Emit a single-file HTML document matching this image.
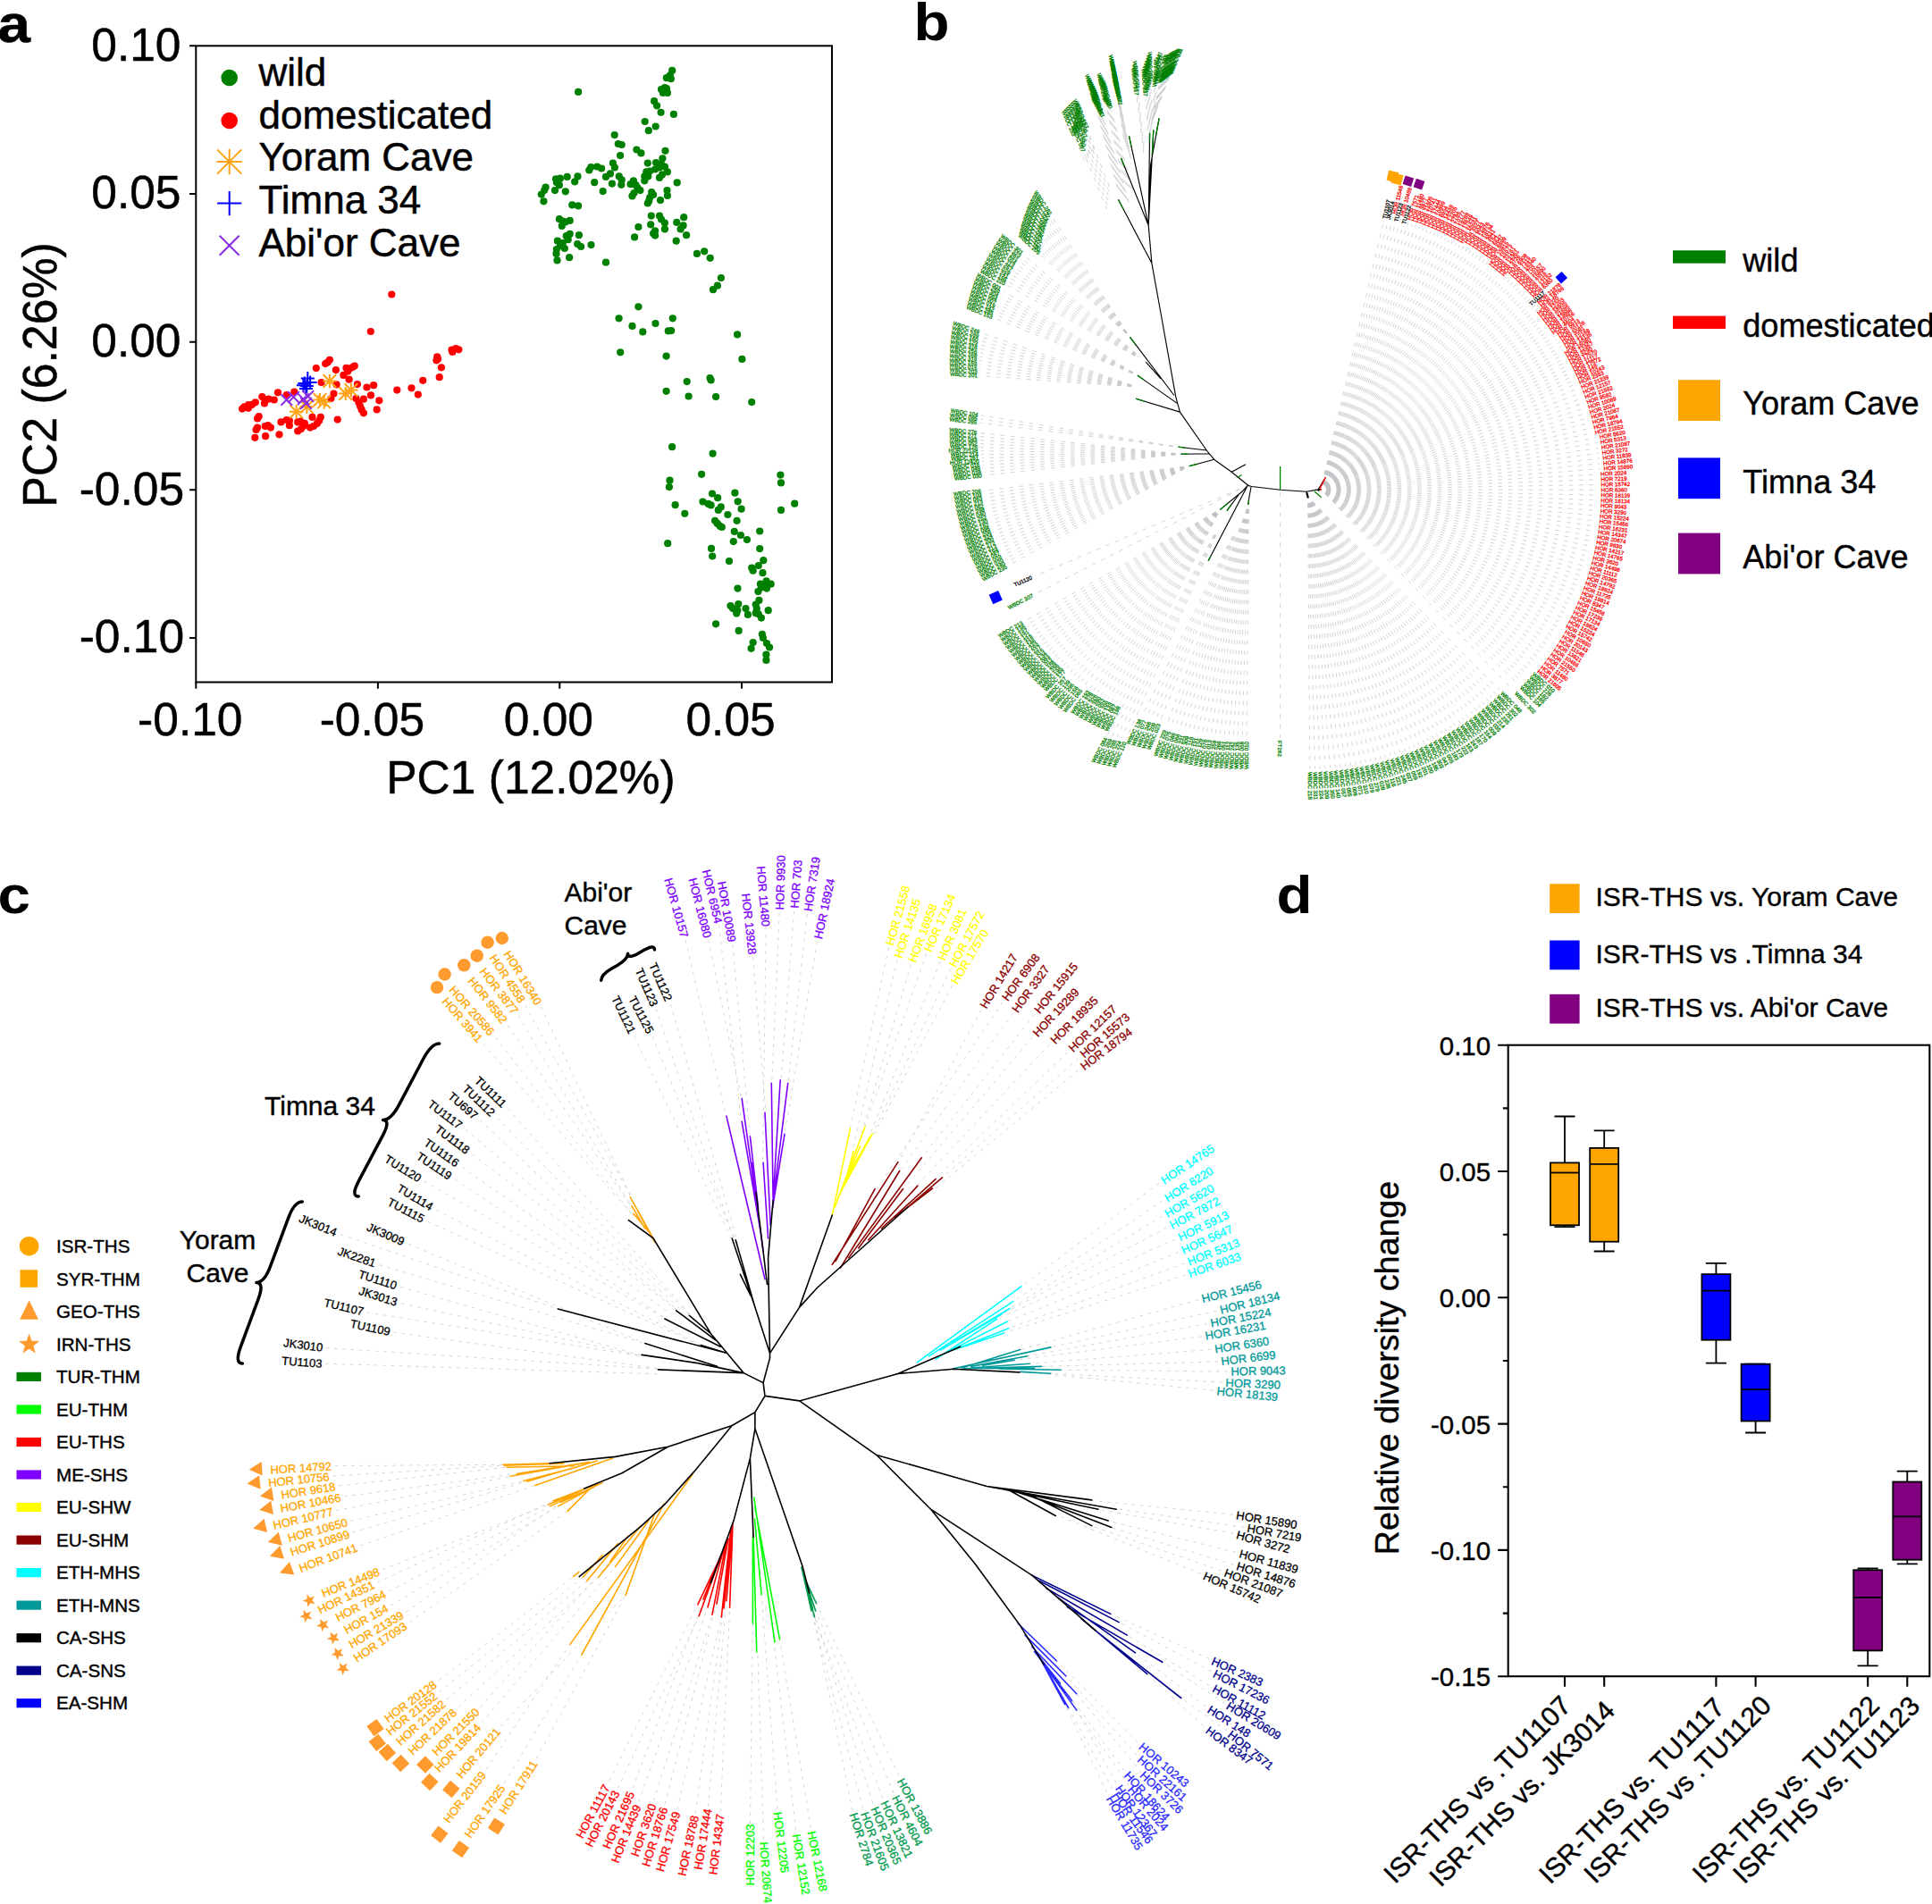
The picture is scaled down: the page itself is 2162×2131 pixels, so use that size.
<!DOCTYPE html>
<html lang="en"><head><meta charset="utf-8"><title>Figure</title>
<style>html,body{margin:0;padding:0;background:#fff}svg{display:block}text{font-family:"Liberation Sans",sans-serif}.b{font-weight:bold}.k{stroke:#000;stroke-width:.4px}</style></head>
<body>
<svg width="2162" height="2131" viewBox="0 0 2162 2131">
<rect width="2162" height="2131" fill="#fff"/>
<g id="pa" stroke="#000" stroke-width="0.5">
<text class="b" transform="translate(-2.5 46.5) scale(1.1 1)" font-size="59.5">a</text>
<rect x="219.3" y="51.3" width="711.7" height="712.2" fill="none" stroke="#000" stroke-width="2"/>
<text x="212.8" y="822.7" font-size="51.5" text-anchor="middle">-0.10</text>
<text x="416.4" y="822.7" font-size="51.5" text-anchor="middle">-0.05</text>
<text x="613.9" y="822.7" font-size="51.5" text-anchor="middle">0.00</text>
<text x="817.6" y="822.7" font-size="51.5" text-anchor="middle">0.05</text>
<text x="202.5" y="67.5" font-size="51.5" text-anchor="end">0.10</text>
<text x="202.5" y="233.2" font-size="51.5" text-anchor="end">0.05</text>
<text x="202.5" y="398.9" font-size="51.5" text-anchor="end">0.00</text>
<text x="206.1" y="564.5" font-size="51.5" text-anchor="end">-0.05</text>
<text x="206.1" y="730.2" font-size="51.5" text-anchor="end">-0.10</text>
<path d="M219.3 763.5v7.2M422.9 763.5v7.2M626.3 763.5v7.2M830 763.5v7.2M219.3 51.3h-7.2M219.3 217h-7.2M219.3 382.7h-7.2M219.3 548.3h-7.2M219.3 714h-7.2" stroke="#000" stroke-width="2" fill="none"/>
<text x="594" y="887.5" font-size="51.5" text-anchor="middle">PC1 (12.02%)</text>
<text transform="translate(63.2 419.5) rotate(-90) scale(1 1.045)" font-size="51.8" text-anchor="middle">PC2 (6.26%)</text>
<g fill="#008000" stroke="none"><circle cx="752.2" cy="78.9" r="4.1"/><circle cx="749.8" cy="84.3" r="4.1"/><circle cx="745.9" cy="87.2" r="4.1"/><circle cx="750.8" cy="88.2" r="4.1"/><circle cx="743.9" cy="98" r="4.1"/><circle cx="740" cy="100" r="4.1"/><circle cx="745.9" cy="99" r="4.1"/><circle cx="741.9" cy="103.9" r="4.1"/><circle cx="746.9" cy="103.9" r="4.1"/><circle cx="732.1" cy="113.2" r="4.1"/><circle cx="735.1" cy="118.3" r="4.1"/><circle cx="739.6" cy="125.8" r="4.1"/><circle cx="753.9" cy="127.9" r="4.1"/><circle cx="721.7" cy="136" r="4.1"/><circle cx="733.7" cy="141.5" r="4.1"/><circle cx="725.8" cy="146.2" r="4.1"/><circle cx="647.1" cy="102.9" r="4.1"/><circle cx="687.7" cy="151.1" r="4.1"/><circle cx="691.8" cy="161" r="4.1"/><circle cx="695.7" cy="162" r="4.1"/><circle cx="694.1" cy="174.1" r="4.1"/><circle cx="712.4" cy="167.5" r="4.1"/><circle cx="717.4" cy="171.4" r="4.1"/><circle cx="744.5" cy="168.8" r="4.1"/><circle cx="741.4" cy="177.3" r="4.1"/><circle cx="724.8" cy="182.6" r="4.1"/><circle cx="734.1" cy="182" r="4.1"/><circle cx="740" cy="183.6" r="4.1"/><circle cx="685.9" cy="182.6" r="4.1"/><circle cx="687.9" cy="187.5" r="4.1"/><circle cx="661.3" cy="187.1" r="4.1"/><circle cx="659.3" cy="190.5" r="4.1"/><circle cx="668.2" cy="186.5" r="4.1"/><circle cx="673.1" cy="188.5" r="4.1"/><circle cx="682.9" cy="194.4" r="4.1"/><circle cx="678" cy="197.9" r="4.1"/><circle cx="692.8" cy="197.4" r="4.1"/><circle cx="695.7" cy="201.3" r="4.1"/><circle cx="684.9" cy="205.6" r="4.1"/><circle cx="695.3" cy="206.8" r="4.1"/><circle cx="665.2" cy="204.2" r="4.1"/><circle cx="674.7" cy="214.1" r="4.1"/><circle cx="646.5" cy="197.4" r="4.1"/><circle cx="643.2" cy="203.3" r="4.1"/><circle cx="634.7" cy="197.9" r="4.1"/><circle cx="622" cy="200.3" r="4.1"/><circle cx="626.9" cy="199.7" r="4.1"/><circle cx="622.9" cy="204.2" r="4.1"/><circle cx="625.9" cy="207.2" r="4.1"/><circle cx="621" cy="213.1" r="4.1"/><circle cx="632.8" cy="214.3" r="4.1"/><circle cx="610.6" cy="209.6" r="4.1"/><circle cx="609.2" cy="213.1" r="4.1"/><circle cx="605.8" cy="217.6" r="4.1"/><circle cx="608.4" cy="225.3" r="4.1"/><circle cx="708.9" cy="202.3" r="4.1"/><circle cx="705.6" cy="206.2" r="4.1"/><circle cx="711.5" cy="207.2" r="4.1"/><circle cx="713.4" cy="210.1" r="4.1"/><circle cx="716.4" cy="213.1" r="4.1"/><circle cx="709.5" cy="216" r="4.1"/><circle cx="707.5" cy="219.4" r="4.1"/><circle cx="723.3" cy="192.4" r="4.1"/><circle cx="727.2" cy="191.5" r="4.1"/><circle cx="721.3" cy="197.4" r="4.1"/><circle cx="725.2" cy="197.4" r="4.1"/><circle cx="721.3" cy="202.3" r="4.1"/><circle cx="733.1" cy="189.5" r="4.1"/><circle cx="738" cy="187.5" r="4.1"/><circle cx="743.9" cy="186.5" r="4.1"/><circle cx="746.9" cy="192.4" r="4.1"/><circle cx="741" cy="195.4" r="4.1"/><circle cx="738" cy="198.9" r="4.1"/><circle cx="757.7" cy="204.4" r="4.1"/><circle cx="729.2" cy="215.1" r="4.1"/><circle cx="731.1" cy="218" r="4.1"/><circle cx="727.2" cy="221" r="4.1"/><circle cx="726.2" cy="224.9" r="4.1"/><circle cx="724.8" cy="227.5" r="4.1"/><circle cx="739" cy="224.1" r="4.1"/><circle cx="746.5" cy="213.1" r="4.1"/><circle cx="746.9" cy="219" r="4.1"/><circle cx="640.3" cy="229.4" r="4.1"/><circle cx="647.1" cy="230.4" r="4.1"/><circle cx="625.9" cy="245.2" r="4.1"/><circle cx="629.8" cy="247.5" r="4.1"/><circle cx="637.7" cy="246.9" r="4.1"/><circle cx="632.8" cy="248.5" r="4.1"/><circle cx="628.8" cy="252.8" r="4.1"/><circle cx="728.8" cy="241.6" r="4.1"/><circle cx="738" cy="241.6" r="4.1"/><circle cx="740" cy="245.5" r="4.1"/><circle cx="743.9" cy="249.5" r="4.1"/><circle cx="728.2" cy="251.4" r="4.1"/><circle cx="733.1" cy="258.3" r="4.1"/><circle cx="743.9" cy="256.4" r="4.1"/><circle cx="731.1" cy="261.3" r="4.1"/><circle cx="733.1" cy="263.6" r="4.1"/><circle cx="714.4" cy="254" r="4.1"/><circle cx="710.1" cy="265.4" r="4.1"/><circle cx="765.2" cy="243.2" r="4.1"/><circle cx="757.3" cy="248.9" r="4.1"/><circle cx="764.6" cy="252.4" r="4.1"/><circle cx="761.6" cy="256.4" r="4.1"/><circle cx="768.1" cy="263.2" r="4.1"/><circle cx="756.7" cy="269.7" r="4.1"/><circle cx="637.7" cy="261.9" r="4.1"/><circle cx="647.9" cy="263.2" r="4.1"/><circle cx="633.8" cy="264.2" r="4.1"/><circle cx="635.7" cy="268.2" r="4.1"/><circle cx="623.9" cy="269.7" r="4.1"/><circle cx="629.8" cy="272.1" r="4.1"/><circle cx="626.9" cy="275.1" r="4.1"/><circle cx="631.8" cy="278" r="4.1"/><circle cx="646.2" cy="273.1" r="4.1"/><circle cx="650.1" cy="276" r="4.1"/><circle cx="661.5" cy="274.1" r="4.1"/><circle cx="622.9" cy="279" r="4.1"/><circle cx="622.5" cy="283.9" r="4.1"/><circle cx="637.1" cy="288.2" r="4.1"/><circle cx="623.5" cy="291.4" r="4.1"/><circle cx="678" cy="293.7" r="4.1"/><circle cx="779.9" cy="283.9" r="4.1"/><circle cx="788.2" cy="281.3" r="4.1"/><circle cx="794.7" cy="288.8" r="4.1"/><circle cx="806.9" cy="311" r="4.1"/><circle cx="802.9" cy="319.7" r="4.1"/><circle cx="798" cy="324.2" r="4.1"/><circle cx="714.4" cy="343.3" r="4.1"/><circle cx="692.6" cy="356.3" r="4.1"/><circle cx="752.8" cy="356.3" r="4.1"/><circle cx="733.5" cy="362" r="4.1"/><circle cx="707.5" cy="364.9" r="4.1"/><circle cx="719.3" cy="371.4" r="4.1"/><circle cx="747.8" cy="370.4" r="4.1"/><circle cx="751.2" cy="370.1" r="4.1"/><circle cx="825.1" cy="374.4" r="4.1"/><circle cx="694.2" cy="394.3" r="4.1"/><circle cx="745.6" cy="398.6" r="4.1"/><circle cx="830.4" cy="401.9" r="4.1"/><circle cx="794.5" cy="423" r="4.1"/><circle cx="795.6" cy="425.5" r="4.1"/><circle cx="768.7" cy="427.1" r="4.1"/><circle cx="745.6" cy="437.8" r="4.1"/><circle cx="770.6" cy="443.5" r="4.1"/><circle cx="801.1" cy="444.1" r="4.1"/><circle cx="841.2" cy="450.1" r="4.1"/><circle cx="752.1" cy="500.2" r="4.1"/><circle cx="797.6" cy="507.6" r="4.1"/><circle cx="785.1" cy="530.8" r="4.1"/><circle cx="749.5" cy="537.7" r="4.1"/><circle cx="748.9" cy="545.1" r="4.1"/><circle cx="873.4" cy="531.6" r="4.1"/><circle cx="874" cy="540.4" r="4.1"/><circle cx="797" cy="552.5" r="4.1"/><circle cx="803.1" cy="557.2" r="4.1"/><circle cx="822.4" cy="551.7" r="4.1"/><circle cx="786.5" cy="561.5" r="4.1"/><circle cx="792.5" cy="563.9" r="4.1"/><circle cx="795.6" cy="565.4" r="4.1"/><circle cx="825.7" cy="561.3" r="4.1"/><circle cx="806.8" cy="567.4" r="4.1"/><circle cx="803.8" cy="570.9" r="4.1"/><circle cx="829.6" cy="569.7" r="4.1"/><circle cx="755.6" cy="565.2" r="4.1"/><circle cx="766.3" cy="574.8" r="4.1"/><circle cx="814.4" cy="576" r="4.1"/><circle cx="889.2" cy="563.7" r="4.1"/><circle cx="874" cy="570.9" r="4.1"/><circle cx="800.1" cy="582.8" r="4.1"/><circle cx="802.7" cy="585.9" r="4.1"/><circle cx="805.8" cy="588.9" r="4.1"/><circle cx="807.8" cy="590" r="4.1"/><circle cx="824.6" cy="582.8" r="4.1"/><circle cx="821.8" cy="594.9" r="4.1"/><circle cx="828.9" cy="599" r="4.1"/><circle cx="835.9" cy="604.1" r="4.1"/><circle cx="850.2" cy="594.5" r="4.1"/><circle cx="820.8" cy="606.1" r="4.1"/><circle cx="747.2" cy="608.2" r="4.1"/><circle cx="796" cy="613.9" r="4.1"/><circle cx="797.2" cy="622.5" r="4.1"/><circle cx="850.2" cy="614.1" r="4.1"/><circle cx="816" cy="628.1" r="4.1"/><circle cx="854.3" cy="627.2" r="4.1"/><circle cx="848.8" cy="633" r="4.1"/><circle cx="841.2" cy="635.6" r="4.1"/><circle cx="842.7" cy="638.7" r="4.1"/><circle cx="853.5" cy="641.2" r="4.1"/><circle cx="857.6" cy="650.4" r="4.1"/><circle cx="850.9" cy="653.5" r="4.1"/><circle cx="856" cy="654.5" r="4.1"/><circle cx="862.7" cy="653.7" r="4.1"/><circle cx="851.9" cy="657.6" r="4.1"/><circle cx="858" cy="658.6" r="4.1"/><circle cx="848.4" cy="662.1" r="4.1"/><circle cx="825.5" cy="658.6" r="4.1"/><circle cx="849.4" cy="671.9" r="4.1"/><circle cx="845.7" cy="676.6" r="4.1"/><circle cx="846.8" cy="681.1" r="4.1"/><circle cx="845.7" cy="686.2" r="4.1"/><circle cx="848.8" cy="687.3" r="4.1"/><circle cx="851.9" cy="691.6" r="4.1"/><circle cx="859.7" cy="683.2" r="4.1"/><circle cx="817.5" cy="678" r="4.1"/><circle cx="820.1" cy="681.1" r="4.1"/><circle cx="826.3" cy="676" r="4.1"/><circle cx="825.3" cy="683.2" r="4.1"/><circle cx="824.2" cy="686.6" r="4.1"/><circle cx="834.5" cy="681.1" r="4.1"/><circle cx="836.9" cy="687.9" r="4.1"/><circle cx="801.1" cy="698.3" r="4.1"/><circle cx="826.7" cy="705.9" r="4.1"/><circle cx="852.9" cy="709.8" r="4.1"/><circle cx="853.9" cy="713.9" r="4.1"/><circle cx="858" cy="720" r="4.1"/><circle cx="861.1" cy="724.5" r="4.1"/><circle cx="842.7" cy="719" r="4.1"/><circle cx="840.6" cy="725.8" r="4.1"/><circle cx="857.4" cy="732.7" r="4.1"/><circle cx="857.4" cy="738.9" r="4.1"/></g>
<g fill="#ff0000" stroke="none"><circle cx="438.3" cy="329.5" r="4.1"/><circle cx="414.8" cy="371" r="4.1"/><circle cx="510.2" cy="390.1" r="4.1"/><circle cx="513.3" cy="391.3" r="4.1"/><circle cx="505.5" cy="391.6" r="4.1"/><circle cx="506.3" cy="393.9" r="4.1"/><circle cx="489.2" cy="399.4" r="4.1"/><circle cx="490" cy="401.7" r="4.1"/><circle cx="488.4" cy="403.3" r="4.1"/><circle cx="493.9" cy="411.3" r="4.1"/><circle cx="491.7" cy="422.2" r="4.1"/><circle cx="473.2" cy="425.8" r="4.1"/><circle cx="460.5" cy="434.3" r="4.1"/><circle cx="467.8" cy="441.6" r="4.1"/><circle cx="444.3" cy="436.6" r="4.1"/><circle cx="368.9" cy="402.8" r="4.1"/><circle cx="366.6" cy="405.6" r="4.1"/><circle cx="364.2" cy="407.1" r="4.1"/><circle cx="353.8" cy="412.1" r="4.1"/><circle cx="375.9" cy="414.1" r="4.1"/><circle cx="396.8" cy="409.5" r="4.1"/><circle cx="394.5" cy="411" r="4.1"/><circle cx="391.4" cy="412.6" r="4.1"/><circle cx="387.5" cy="411.8" r="4.1"/><circle cx="389.1" cy="415.7" r="4.1"/><circle cx="384.4" cy="419.9" r="4.1"/><circle cx="390.6" cy="424.7" r="4.1"/><circle cx="359.6" cy="428.1" r="4.1"/><circle cx="376.6" cy="430.4" r="4.1"/><circle cx="399.9" cy="430.1" r="4.1"/><circle cx="410.5" cy="433.5" r="4.1"/><circle cx="418.1" cy="431.2" r="4.1"/><circle cx="415" cy="442.4" r="4.1"/><circle cx="406.9" cy="446.7" r="4.1"/><circle cx="424.3" cy="448.3" r="4.1"/><circle cx="421.7" cy="458.4" r="4.1"/><circle cx="373.5" cy="440.5" r="4.1"/><circle cx="370.4" cy="446" r="4.1"/><circle cx="398.4" cy="446" r="4.1"/><circle cx="401.5" cy="450.6" r="4.1"/><circle cx="403" cy="454.5" r="4.1"/><circle cx="404.6" cy="458.4" r="4.1"/><circle cx="406.9" cy="462.3" r="4.1"/><circle cx="377.7" cy="469.6" r="4.1"/><circle cx="311" cy="439.3" r="4.1"/><circle cx="329.3" cy="438.7" r="4.1"/><circle cx="320.7" cy="442.1" r="4.1"/><circle cx="293.3" cy="444.1" r="4.1"/><circle cx="296.7" cy="447.5" r="4.1"/><circle cx="300.6" cy="446.7" r="4.1"/><circle cx="306.8" cy="447.5" r="4.1"/><circle cx="295.9" cy="451.4" r="4.1"/><circle cx="285.8" cy="450.3" r="4.1"/><circle cx="281.9" cy="453" r="4.1"/><circle cx="278" cy="453" r="4.1"/><circle cx="273.4" cy="455.3" r="4.1"/><circle cx="271.1" cy="457.6" r="4.1"/><circle cx="278" cy="456.8" r="4.1"/><circle cx="289.7" cy="466.1" r="4.1"/><circle cx="288.1" cy="468.5" r="4.1"/><circle cx="349.5" cy="466.9" r="4.1"/><circle cx="358.8" cy="466.9" r="4.1"/><circle cx="357.2" cy="470.8" r="4.1"/><circle cx="354.9" cy="473.9" r="4.1"/><circle cx="351" cy="477" r="4.1"/><circle cx="347.1" cy="478.6" r="4.1"/><circle cx="340.9" cy="473.9" r="4.1"/><circle cx="336.3" cy="471.6" r="4.1"/><circle cx="333.2" cy="472.4" r="4.1"/><circle cx="339.4" cy="477" r="4.1"/><circle cx="337" cy="480.1" r="4.1"/><circle cx="333.2" cy="482.5" r="4.1"/><circle cx="323.9" cy="470.8" r="4.1"/><circle cx="320.7" cy="470" r="4.1"/><circle cx="314.5" cy="472.4" r="4.1"/><circle cx="323.9" cy="476.2" r="4.1"/><circle cx="299.8" cy="476.2" r="4.1"/><circle cx="296.7" cy="477" r="4.1"/><circle cx="302.9" cy="478.6" r="4.1"/><circle cx="288.1" cy="478.6" r="4.1"/><circle cx="286.6" cy="480.9" r="4.1"/><circle cx="312.5" cy="486.3" r="4.1"/><circle cx="297.1" cy="488.2" r="4.1"/><circle cx="285.3" cy="489.8" r="4.1"/></g>
<path d="M361.3 426.6H376.5M368.9 419V434.2M361.6 419.3L376.2 433.8M361.6 433.8L376.2 419.3" stroke="#ffa216" stroke-width="2.0" fill="none"/><path d="M385.4 436.6H400.6M393 429V444.2M385.7 429.3L400.2 443.9M385.7 443.9L400.2 429.3" stroke="#ffa216" stroke-width="2.0" fill="none"/><path d="M379.1 440.5H394.3M386.7 432.9V448.1M379.4 433.2L394 447.8M379.4 447.8L394 433.2" stroke="#ffa216" stroke-width="2.0" fill="none"/><path d="M350.4 447.5H365.6M358 439.9V455.1M350.7 440.2L365.3 454.8M350.7 454.8L365.3 440.2" stroke="#ffa216" stroke-width="2.0" fill="none"/><path d="M355.1 449.8H370.3M362.7 442.2V457.4M355.4 442.5L370 457.1M355.4 457.1L370 442.5" stroke="#ffa216" stroke-width="2.0" fill="none"/><path d="M324 460.7H339.2M331.6 453.1V468.3M324.3 453.4L338.9 468M324.3 468L338.9 453.4" stroke="#ffa216" stroke-width="2.0" fill="none"/><path d="M335.7 455.3H350.9M343.3 447.7V462.9M336 448L350.6 462.6M336 462.6L350.6 448" stroke="#ffa216" stroke-width="2.0" fill="none"/><path d="M336.8 423.4H351.8M344.3 415.9V430.9" stroke="#0000ff" stroke-width="2.0" fill="none"/><path d="M339.6 428.1H354.6M347.1 420.6V435.6" stroke="#0000ff" stroke-width="2.0" fill="none"/><path d="M333.4 428.9H348.4M340.9 421.4V436.4" stroke="#0000ff" stroke-width="2.0" fill="none"/><path d="M335.8 432H350.8M343.3 424.5V439.5" stroke="#0000ff" stroke-width="2.0" fill="none"/><path d="M331.9 431.2H346.9M339.4 423.7V438.7" stroke="#0000ff" stroke-width="2.0" fill="none"/><path d="M335 435.1H350M342.5 427.6V442.6" stroke="#0000ff" stroke-width="2.0" fill="none"/><path d="M314.4 441.2L327 453.8M314.4 453.8L327 441.2" stroke="#8a2be2" stroke-width="2.0" fill="none"/><path d="M322.2 438.1L334.8 450.7M322.2 450.7L334.8 438.1" stroke="#8a2be2" stroke-width="2.0" fill="none"/><path d="M333.1 440.4L345.7 453M333.1 453L345.7 440.4" stroke="#8a2be2" stroke-width="2.0" fill="none"/><path d="M338.5 437.3L351.1 449.9M338.5 449.9L351.1 437.3" stroke="#8a2be2" stroke-width="2.0" fill="none"/><path d="M336.2 445.1L348.8 457.7M336.2 457.7L348.8 445.1" stroke="#8a2be2" stroke-width="2.0" fill="none"/>
<circle cx="256.7" cy="87.0" r="9.3" fill="#008000" stroke="none"/><circle cx="256.7" cy="135.0" r="9.3" fill="#ff0000" stroke="none"/><path d="M242.5 181H270.9M256.7 166.8V195.2M243.1 167.4L270.3 194.6M243.1 194.6L270.3 167.4" stroke="#ffa216" stroke-width="2.0" fill="none"/><path d="M243.1 227.6H270.3M256.7 214V241.2" stroke="#0000ff" stroke-width="2.0" fill="none"/><path d="M245.7 263.8L267.7 285.8M245.7 285.8L267.7 263.8" stroke="#8a2be2" stroke-width="2.0" fill="none"/><text x="289.5" y="95.5" font-size="44">wild</text><text x="289.5" y="143.5" font-size="44">domesticated</text><text x="289.5" y="191.2" font-size="44">Yoram Cave</text><text x="289.5" y="239.2" font-size="44">Timna 34</text><text x="289.5" y="286.8" font-size="44">Abi'or Cave</text>
</g>
<g id="pb">
<text class="b" transform="translate(1022.5 45) scale(1.1 1)" font-size="59.5">b</text>
<path d="M1479.5 541.7L1548.3 248.1M1479.6 541.7L1552.6 249.2M1479.7 541.7L1559 242.5M1479.8 541.7L1561.2 251.4M1479.8 541.8L1567.7 244.9M1479.9 541.8L1569.7 253.8M1480 541.8L1575.7 249.4M1480.1 541.9L1580 250.9M1480.2 541.9L1584.3 252.3M1480.3 541.9L1588.5 253.9M1480.4 541.9L1592.7 255.5M1480.5 542L1596.9 257.1M1480.5 542L1601.1 258.8M1480.6 542.1L1605.2 260.6M1480.7 542.1L1609.4 262.4M1480.8 542.1L1613.5 264.3M1480.9 542.2L1617.5 266.3M1481 542.2L1621.6 268.3M1481.1 542.3L1625.6 270.3M1481.1 542.3L1629.5 272.5M1481.2 542.4L1633.5 274.6M1481.3 542.4L1638.4 275.2M1481.4 542.4L1642.3 277.5M1481.5 542.5L1646.2 279.8M1481.5 542.5L1650 282.2M1481.6 542.6L1653.8 284.7M1481.7 542.6L1657.6 287.2M1481.8 542.7L1661.3 289.8M1481.8 542.8L1665 292.5M1481.9 542.8L1665.1 299.9M1482 542.9L1668.6 302.6M1482.1 542.9L1672.2 305.4M1482.1 543L1675.6 308.2M1482.2 543L1679.1 311M1482.3 543.1L1686.4 309.4M1482.3 543.2L1689.8 312.4M1482.4 543.2L1693.2 315.4M1482.5 543.3L1696.5 318.5M1482.5 543.4L1699.8 321.6M1482.6 543.4L1703 324.8M1482.7 543.5L1706.2 328.1M1482.7 543.6L1709.4 331.3M1482.8 543.6L1712.5 334.7M1482.9 543.7L1709.6 343.3M1482.9 543.8L1718.5 341.4M1483 543.8L1721.5 344.9M1483.1 543.9L1718.2 353.4M1483.1 544L1721 356.9M1483.2 544.1L1723.7 360.4M1483.2 544.1L1726.4 363.9M1483.3 544.2L1729 367.5M1483.3 544.3L1731.6 371.1M1483.4 544.4L1734.1 374.7M1483.4 544.4L1740 376.2M1483.5 544.5L1742.4 380M1483.5 544.6L1744.8 383.7M1483.6 544.7L1747.2 387.6M1483.6 544.8L1749.5 391.4M1483.7 544.8L1748.2 397.3M1483.7 544.9L1750.4 401.2M1483.8 545L1752.5 405.1M1483.8 545.1L1754.5 409M1483.8 545.2L1756.5 413M1483.9 545.2L1758.4 417M1483.9 545.3L1760.3 421M1484 545.4L1762.1 425.1M1484 545.5L1764 429.5M1484.1 545.6L1766.2 434.9M1484.1 545.7L1768.3 440.3M1484.1 545.9L1770.3 445.8M1484.2 546L1772.2 451.3M1484.2 546.1L1774 456.8M1484.2 546.2L1775.7 462.3M1484.3 546.3L1777.2 467.9M1484.3 546.4L1778.7 473.5M1484.3 546.6L1780.1 479.2M1484.4 546.7L1781.3 484.9M1484.4 546.8L1786.4 489.8M1484.4 546.9L1787.5 495.6M1484.4 547L1788.4 501.4M1484.4 547.2L1789.3 507.2M1484.5 547.3L1790 513.1M1484.5 547.4L1790.6 518.9M1484.5 547.5L1791.1 524.8M1484.5 547.6L1787.6 530.9M1484.5 547.8L1787.8 536.7M1484.5 547.9L1788 542.5M1484.5 548L1788.1 548.3M1484.5 548.1L1788.1 554.1M1484.5 548.3L1787.9 559.9M1484.5 548.4L1787.7 565.7M1484.5 548.5L1787.3 571.5M1484.5 548.6L1786.8 577.3M1484.5 548.7L1786.3 583.1M1484.4 548.9L1785.6 588.9M1484.4 549L1784.8 594.7M1484.4 549.1L1783.9 600.4M1484.4 549.2L1782.9 606.1M1484.4 549.3L1781.7 611.9M1484.3 549.5L1780.5 617.5M1484.3 549.6L1779.2 623.2M1484.3 549.7L1777.7 628.8M1484.2 549.8L1776.2 634.5M1484.2 549.9L1774.5 640M1484.2 550L1772.8 645.6M1484.1 550.2L1770.9 651.1M1484.1 550.3L1769 656.6M1484 550.4L1766.9 662M1484 550.5L1764.7 667.4M1484 550.6L1762.5 672.8M1483.9 550.7L1760.1 678.1M1483.9 550.8L1757.6 683.4M1483.8 550.9L1755.1 688.6M1483.7 551.1L1752.4 693.8M1483.7 551.2L1749.6 698.9M1483.6 551.3L1748.5 705M1483.6 551.4L1745.5 710.1M1483.5 551.5L1742.5 715.1M1483.4 551.6L1739.3 720M1483.4 551.7L1736.1 724.9M1483.3 551.8L1732.7 729.7M1483.2 551.9L1729.3 734.5M1483.1 552L1725.8 739.2M1483.1 552.1L1722.2 743.8M1483 552.2L1718.5 748.4M1482.9 552.3L1713.1 751.6M1482.8 552.3L1709.8 755.4M1482.8 552.4L1706.4 759.1M1482.7 552.5L1702.9 762.8M1482.6 552.6L1699.4 766.4M1497.4 568.2L1693.6 772.8M1468.9 561.3L1677.8 772.4M1468.8 561.4L1673.7 776.4M1468.7 561.5L1669.5 780.4M1468.6 561.6L1665.2 784.2M1468.5 561.7L1660.9 788M1468.4 561.8L1656.5 791.6M1468.2 561.9L1652 795.2M1468.1 562L1647.4 798.7M1468 562.1L1642.8 802.2M1467.9 562.1L1638.1 805.5M1467.8 562.2L1633.4 808.8M1467.7 562.3L1628.6 811.9M1467.5 562.4L1623.8 815M1467.4 562.5L1618.8 818M1467.3 562.5L1613.9 820.8M1467.2 562.6L1608.9 823.6M1467.1 562.7L1603.8 826.3M1466.9 562.7L1598.7 828.9M1466.8 562.8L1593.5 831.4M1466.7 562.8L1588.3 833.8M1466.5 562.9L1583 836.1M1466.4 563L1577.7 838.3M1466.3 563L1572.4 840.4M1466.1 563.1L1567 842.4M1466 563.1L1561.6 844.3M1465.9 563.1L1556.1 846.1M1465.7 563.2L1550.6 847.8M1465.6 563.2L1545.1 849.4M1465.5 563.3L1539.6 850.9M1465.3 563.3L1534 852.3M1465.2 563.3L1528.4 853.5M1465.1 563.4L1522.8 854.7M1464.9 563.4L1517.1 855.8M1464.8 563.4L1511.5 856.7M1464.6 563.4L1505.8 857.6M1464.5 563.4L1500.1 858.3M1464.4 563.5L1494.4 858.9M1464.2 563.5L1488.7 859.5M1464.1 563.5L1482.9 859.9M1463.9 563.5L1477.2 860.2M1463.8 563.5L1471.5 860.4M1463.7 563.5L1465.7 860.5M1397.3 570L1395.1 826.5M1397.2 570L1390.1 826.6M1397.1 570L1385 826.7M1397 570L1380 826.6M1396.9 570L1374.9 826.4M1396.8 570L1369.8 826.2M1396.7 570L1364.8 825.8M1396.5 569.9L1359.7 825.4M1396.4 569.9L1354.7 824.8M1396.3 569.9L1349.7 824.2M1396.2 569.9L1344.6 823.4M1396.1 569.9L1339.6 822.6M1396 569.8L1334.6 821.6M1395.9 569.8L1329.6 820.6M1395.8 569.8L1324.6 819.4M1395.6 569.7L1319.7 818.2M1395.5 569.7L1314.7 816.9M1395.4 569.7L1309.8 815.5M1395.3 569.6L1304.9 813.9M1382.3 601L1298.2 807M1381.6 600.7L1293.1 806M1380.8 600.4L1287.9 804.8M1380.1 600.1L1282.8 803.5M1379.4 599.7L1277.7 802.1M1360.8 599.1L1260.1 827.4M1360.3 598.9L1254.9 826.5M1359.8 598.7L1249.7 825.4M1359.3 598.4L1244.5 824.2M1358.8 598.2L1239.3 822.9M1362.8 575.3L1253.7 787.5M1362.7 575.3L1249.4 785.6M1362.6 575.2L1245.1 783.7M1362.5 575.2L1240.8 781.6M1362.4 575.1L1236.6 779.5M1362.3 575L1232.4 777.3M1362.2 575L1228.2 775M1362.1 574.9L1224.1 772.7M1362 574.9L1220 770.2M1361.8 574.8L1212 769.3M1361.7 574.7L1207.6 766.1M1361.6 574.6L1203.2 762.8M1361.5 574.5L1198.8 759.4M1361.4 574.4L1194.6 755.9M1361.3 574.3L1193.6 748M1361.3 574.2L1190.1 745M1361.2 574.2L1186.6 741.8M1361.1 574.1L1183.2 738.6M1361 574L1179.9 735.3M1360.9 573.9L1176.6 731.9M1360.9 573.8L1173.3 728.5M1360.8 573.7L1170.2 725M1360.7 573.6L1167.1 721.5M1360.7 573.6L1164 717.9M1360.6 573.5L1161.1 714.2M1360.5 573.4L1158.2 710.5M1360.5 573.3L1155.3 706.7M1360.4 573.2L1152.6 702.8M1360.4 573.1L1149.9 698.9M1360.3 573L1147.3 695M1387.3 547.9L1159 664.7M1387 547.2L1158 644.9M1325.4 524.6L1129.6 632.3M1325.4 524.5L1127.5 628.6M1325.3 524.4L1125.6 624.9M1325.3 524.3L1123.6 621.2M1325.2 524.2L1121.8 617.4M1325.2 524.1L1120 613.6M1325.2 524L1118.3 609.7M1325.1 523.9L1116.7 605.9M1325.1 523.8L1115.1 602M1325 523.7L1113.6 598M1325 523.6L1112.2 594.1M1325 523.5L1110.8 590.1M1324.9 523.4L1109.5 586.1M1324.9 523.3L1108.3 582M1324.9 523.2L1107.2 578M1324.9 523.1L1106.1 573.9M1324.8 523L1105.1 569.8M1324.8 522.8L1104.2 565.7M1324.8 522.7L1103.4 561.5M1324.8 522.6L1102.6 557.4M1324.8 522.5L1101.9 553.2M1324.7 522.4L1101.3 549.1M1315.4 508.8L1102.2 532M1315.4 508.7L1101.3 528.2M1315.4 508.6L1100.6 524.3M1315.4 508.5L1099.9 520.4M1315.4 508.4L1099.2 516.5M1315.4 508.3L1098.7 512.5M1315.4 508.2L1098.2 508.6M1315.4 508.1L1097.7 504.6M1315.4 508L1097.4 500.6M1315.4 507.9L1097.1 496.6M1315.4 507.8L1096.9 492.6M1315.4 507.7L1096.7 488.6M1315.4 507.6L1096.6 484.6M1312.6 499.5L1096.7 473.3M1312.7 499.4L1097.3 469.1M1312.7 499.3L1097.9 464.9M1266 432.6L1097.4 420.8M1266 432.4L1097 416.5M1266 432.3L1096.8 412.2M1266.1 432.1L1096.6 407.9M1266.1 432L1096.5 403.6M1266.1 431.9L1096.6 399.2M1266.1 431.7L1096.7 394.8M1266.2 431.6L1097 390.4M1266.2 431.4L1097.4 386M1266.2 431.3L1097.9 381.6M1266.3 431.2L1098.5 377.2M1266.3 431L1099.2 372.8M1267.3 417.9L1113.7 356.4M1267.4 417.7L1114.5 352.5M1267.4 417.6L1115.4 348.6M1267.5 417.5L1116.3 344.8M1267.6 417.4L1117.4 340.9M1267.6 417.3L1118.6 337M1267.7 417.1L1119.9 333.2M1267.8 417L1121.2 329.3M1267.8 416.9L1122.7 325.5M1270 398.4L1127.6 319.5M1270.1 398.1L1129.3 315.6M1270.3 397.8L1131.1 311.8M1270.5 397.6L1133.1 308M1270.7 397.3L1135.1 304.2M1270.8 397L1137.2 300.5M1271 396.7L1139.4 296.8M1271.3 396.5L1141.7 293.2M1271.5 396.2L1144.1 289.6M1271.7 396L1146.6 286.1M1260.1 373.2L1165.7 286.1M1260.2 373.1L1166 282.6M1260.3 373.1L1166.5 279M1260.4 373L1167.1 275.5M1260.4 372.9L1167.8 271.9M1260.5 372.8L1168.6 268.3M1260.6 372.7L1169.5 264.7M1260.7 372.6L1170.5 261.1M1260.8 372.6L1171.7 257.5M1260.9 372.5L1172.9 253.9M1261 372.4L1174.3 250.2M1261.1 372.3L1175.7 246.6M1261.2 372.3L1177.3 243M1238.7 234.6L1213.6 172.5M1239.3 229.4L1214.4 167.2M1239.8 224.3L1215.1 162M1240.3 219.1L1215.8 156.7M1240.8 214L1216.5 151.5M1241.3 208.8L1217.3 146.2M1213.7 179.8L1203.2 154.9M1215.9 177.3L1205.5 152.4M1218 174.9L1207.8 149.9M1220.1 172.5L1210.1 147.4M1222.2 170L1212.4 144.9M1224.3 167.6L1214.6 142.4M1263.3 226.5L1234.9 133.7M1261.7 224.4L1233.7 131.5M1260 222.3L1232.5 129.3M1258.4 220.2L1231.2 127.1M1256.7 218.1L1230 124.8M1255.1 216L1228.8 122.6M1253.5 213.9L1227.5 120.4M1251.8 211.8L1226.3 118.2M1250.2 209.7L1225.1 116M1267.6 213.1L1243.8 124.3M1265.6 211.5L1242.4 122.5M1263.6 209.8L1241.1 120.6M1261.7 208.2L1239.7 118.8M1259.7 206.5L1238.4 117M1257.7 204.8L1237 115.2M1265.8 178L1254.6 120.1M1264.9 175.3L1253.9 117.3M1264 172.5L1253.2 114.5M1263 169.8L1252.4 111.7M1262.1 167L1251.7 108.9M1261.2 164.3L1251 106.1M1260.2 161.5L1250.3 103.3M1259.3 158.7L1249.6 100.5M1258.3 156L1248.9 97.7M1257.4 153.2L1248.2 94.9M1279.8 171.2L1272.2 109.7M1279.9 167.3L1272.9 105.7M1280 163.4L1273.5 101.8M1285.3 157.6L1282.1 110.7M1286 154.5L1283 107.6M1286.7 151.3L1283.9 104.4M1287.4 148.2L1284.9 101.3M1288 145.1L1285.8 98.1M1288.7 141.9L1286.8 95M1289.4 138.8L1287.7 91.8M1289 137.1L1291.6 100.2M1289.8 134.3L1292.8 97.4M1290.6 131.5L1294 94.6M1291.3 128.6L1295.2 91.8M1289.6 134.3L1297 96M1290 133.2L1298 95.1M1290.4 132.2L1299 94.2M1290.8 131.2L1300 93.3M1291.2 130.2L1301 92.4M1291.6 129.1L1302.1 91.5M1292 128L1303.1 90.6M1292.4 127L1304.1 89.8M1292.8 125.9L1305.1 88.9M1293.2 124.8L1306.1 88M1293.6 123.7L1307.1 87.1M1294.1 122.6L1308.1 86.2M1294.5 121.5L1309.1 85.3M1432.6 551L1432.6 826" stroke="#c0c3c6" stroke-width="0.72" stroke-dasharray="4.7 6.6" fill="none"/>
<path d="M1397.7 544L1378.2 528.2L1358.6 514.2L1350.2 504L1320.4 461.1L1315.8 444.3L1297.1 340L1288.9 294.6L1285.2 252.3M1285.2 252.3L1287.6 184.6L1297.1 132.4M1285.2 252.3L1290.8 145.5M1285.2 252.3L1286.6 148.7M1285.2 252.3L1263.5 152.4M1285.2 252.3L1254.5 177M1288.9 294.6L1251.4 223.3M1320.4 461.1L1271 446.2M1317.6 451.6L1272.9 420.1M1313.9 442.5L1264.5 377.3M1299 423.8L1282.2 405.2M1350.2 504L1318.6 500.2M1353 507.7L1321.4 508.2M1358.6 514.2L1330.7 521.7M1378.2 528.2L1394 519.8M1396.2 543.3L1390.6 549.7L1365.3 570.4M1386 554L1372.9 571.7M1396.2 543.3L1352.1 627.8M1400 545L1398 556L1396.7 565M1396.2 543.3L1400.8 544.5L1432.6 548.3L1462 550.3L1475.2 547.9L1480.5 539M1462 550.3L1463.6 556" stroke="#000" stroke-width="1.15" fill="none" stroke-linejoin="round"/>
<path d="M1293.8 150.7L1297.1 132.4M1289.4 172.2L1290.8 145.5M1286.5 159.1L1286.6 148.7M1266.1 164.4L1263.5 152.4M1258.2 186L1254.5 177M1257 234L1251.4 223.3M1280.9 449.2L1271 446.2M1279.6 424.8L1272.9 420.1M1270.4 385.1L1264.5 377.3M1326.5 501.1L1318.6 500.2M1329.3 508.1L1321.4 508.2M1339.1 519.5L1330.7 521.7M1374.2 563.2L1365.3 570.4M1377.5 565.5L1372.9 571.7M1354.7 622.7L1352.1 627.8M1397.5 559.6L1396.7 565M1432.6 522L1432.6 548.2M1471 550L1478.6 556.8M1384.5 534.5L1389.5 531.5" stroke="#008000" stroke-width="1.3" fill="none"/>
<path d="M1477 546.5L1483.4 534.2M1476 548.5l3 -1" stroke="#e00000" stroke-width="1.6" fill="none"/>
<path d="M1462.3 551.5l1.6 6M1475 549.5l1.5-2.5" stroke="#000" stroke-width="2.2" fill="none"/>
<g font-size="6.2" stroke-width="0.28">
<g fill="#000" stroke="#000"><text transform="translate(1549.1 244.7) rotate(-76.8)" dy="2.1">TU1107</text><text transform="translate(1553.5 245.8) rotate(-76)" dy="2.1">JK3014</text><text transform="translate(1562.1 248) rotate(-74.3)" dy="2.1">TU1123</text><text transform="translate(1570.7 250.5) rotate(-72.7)" dy="2.1">TU1122</text><text transform="translate(1712.2 341) rotate(-41.5)" dy="2.1">TU1117</text><text transform="translate(1154.7 646.3) rotate(336.9)" dy="2.1" text-anchor="end">TU1120</text></g>
<g fill="#ff0000" stroke="#ff0000"><text transform="translate(1559.9 239.1) rotate(-75.2)" dy="2.1">HOR 11546</text><text transform="translate(1568.7 241.5) rotate(-73.5)" dy="2.1">HOR 10466</text><text transform="translate(1576.8 246.1) rotate(-71.9)" dy="2.1">HOR 7571</text><text transform="translate(1581.2 247.5) rotate(-71)" dy="2.1">HOR 11480</text><text transform="translate(1585.5 249) rotate(-70.2)" dy="2.1">HOR 3877</text><text transform="translate(1589.8 250.6) rotate(-69.4)" dy="2.1">HOR 21605</text><text transform="translate(1594 252.2) rotate(-68.6)" dy="2.1">HOR 10741</text><text transform="translate(1598.3 253.9) rotate(-67.8)" dy="2.1">HOR 17444</text><text transform="translate(1602.5 255.6) rotate(-66.9)" dy="2.1">HOR 10899</text><text transform="translate(1606.7 257.4) rotate(-66.1)" dy="2.1">HOR 6954</text><text transform="translate(1610.8 259.2) rotate(-65.3)" dy="2.1">HOR 14439</text><text transform="translate(1615 261.2) rotate(-64.5)" dy="2.1">HOR 12205</text><text transform="translate(1619.1 263.1) rotate(-63.7)" dy="2.1">HOR 2784</text><text transform="translate(1623.1 265.2) rotate(-62.8)" dy="2.1">HOR 10777</text><text transform="translate(1627.2 267.2) rotate(-62)" dy="2.1">HOR 19289</text><text transform="translate(1631.2 269.4) rotate(-61.2)" dy="2.1">HOR 17549</text><text transform="translate(1635.2 271.6) rotate(-60.4)" dy="2.1">HOR 16231</text><text transform="translate(1640.2 272.1) rotate(-59.5)" dy="2.1">HOR 3327</text><text transform="translate(1644.1 274.5) rotate(-58.7)" dy="2.1">HOR 9043</text><text transform="translate(1648.1 276.9) rotate(-57.9)" dy="2.1">HOR 14876</text><text transform="translate(1651.9 279.3) rotate(-57.1)" dy="2.1">HOR 18134</text><text transform="translate(1655.8 281.8) rotate(-56.3)" dy="2.1">HOR 3941</text><text transform="translate(1659.6 284.4) rotate(-55.4)" dy="2.1">HOR 154</text><text transform="translate(1663.4 287) rotate(-54.6)" dy="2.1">HOR 5647</text><text transform="translate(1667.1 289.6) rotate(-53.8)" dy="2.1">HOR 6699</text><text transform="translate(1667.2 297.1) rotate(-53)" dy="2.1">HOR 15915</text><text transform="translate(1670.8 299.9) rotate(-52.2)" dy="2.1">HOR 15573</text><text transform="translate(1674.3 302.6) rotate(-51.3)" dy="2.1">HOR 22161</text><text transform="translate(1677.9 305.5) rotate(-50.5)" dy="2.1">HOR 14351</text><text transform="translate(1681.3 308.3) rotate(-49.7)" dy="2.1">HOR 3726</text><text transform="translate(1688.7 306.7) rotate(-48.9)" dy="2.1">HOR 6908</text><text transform="translate(1692.2 309.8) rotate(-48)" dy="2.1">HOR 7319</text><text transform="translate(1695.6 312.8) rotate(-47.2)" dy="2.1">HOR 16340</text><text transform="translate(1698.9 316) rotate(-46.4)" dy="2.1">HOR 703</text><text transform="translate(1702.3 319.1) rotate(-45.6)" dy="2.1">HOR 10157</text><text transform="translate(1705.5 322.4) rotate(-44.8)" dy="2.1">HOR 15890</text><text transform="translate(1708.8 325.6) rotate(-43.9)" dy="2.1">HOR 7219</text><text transform="translate(1711.9 328.9) rotate(-43.1)" dy="2.1">HOR 12152</text><text transform="translate(1715.1 332.3) rotate(-42.3)" dy="2.1">HOR 6360</text><text transform="translate(1721.2 339.2) rotate(-40.7)" dy="2.1">HOR 21878</text><text transform="translate(1724.2 342.7) rotate(-39.8)" dy="2.1">HOR 18766</text><text transform="translate(1720.9 351.2) rotate(-39)" dy="2.1">HOR 6220</text><text transform="translate(1723.7 354.7) rotate(-38.2)" dy="2.1">HOR 12203</text><text transform="translate(1726.5 358.2) rotate(-37.4)" dy="2.1">HOR 18935</text><text transform="translate(1729.2 361.8) rotate(-36.5)" dy="2.1">HOR 21695</text><text transform="translate(1731.9 365.4) rotate(-35.7)" dy="2.1">HOR 13886</text><text transform="translate(1734.5 369.1) rotate(-34.9)" dy="2.1">HOR 10756</text><text transform="translate(1737 372.7) rotate(-34.1)" dy="2.1">HOR 4604</text><text transform="translate(1742.9 374.3) rotate(-33.3)" dy="2.1">HOR 5913</text><text transform="translate(1745.4 378.1) rotate(-32.4)" dy="2.1">HOR 20128</text><text transform="translate(1747.8 381.9) rotate(-31.6)" dy="2.1">HOR 3081</text><text transform="translate(1750.2 385.8) rotate(-30.8)" dy="2.1">HOR 12168</text><text transform="translate(1752.5 389.7) rotate(-30)" dy="2.1">HOR 14135</text><text transform="translate(1751.3 395.6) rotate(-29.2)" dy="2.1">HOR 16080</text><text transform="translate(1753.4 399.5) rotate(-28.3)" dy="2.1">HOR 12367</text><text transform="translate(1755.6 403.5) rotate(-27.5)" dy="2.1">HOR 3290</text><text transform="translate(1757.6 407.4) rotate(-26.7)" dy="2.1">HOR 17570</text><text transform="translate(1759.6 411.5) rotate(-25.9)" dy="2.1">HOR 11117</text><text transform="translate(1761.6 415.5) rotate(-25)" dy="2.1">HOR 17572</text><text transform="translate(1763.5 419.6) rotate(-24.2)" dy="2.1">HOR 148</text><text transform="translate(1765.3 423.7) rotate(-23.4)" dy="2.1">HOR 10243</text><text transform="translate(1767.3 428.2) rotate(-22.5)" dy="2.1">HOR 2383</text><text transform="translate(1769.5 433.6) rotate(-21.4)" dy="2.1">HOR 21339</text><text transform="translate(1771.6 439.1) rotate(-20.4)" dy="2.1">HOR 12157</text><text transform="translate(1773.6 444.6) rotate(-19.3)" dy="2.1">HOR 21582</text><text transform="translate(1775.5 450.2) rotate(-18.2)" dy="2.1">HOR 9582</text><text transform="translate(1777.3 455.7) rotate(-17.1)" dy="2.1">HOR 10089</text><text transform="translate(1779 461.4) rotate(-16.1)" dy="2.1">HOR 2024</text><text transform="translate(1780.6 467) rotate(-15)" dy="2.1">HOR 21087</text><text transform="translate(1782.1 472.7) rotate(-13.9)" dy="2.1">HOR 7964</text><text transform="translate(1783.5 478.4) rotate(-12.8)" dy="2.1">HOR 18794</text><text transform="translate(1784.8 484.1) rotate(-11.8)" dy="2.1">HOR 21552</text><text transform="translate(1789.9 489.2) rotate(-10.7)" dy="2.1">HOR 5620</text><text transform="translate(1790.9 495) rotate(-9.6)" dy="2.1">HOR 5313</text><text transform="translate(1791.9 500.9) rotate(-8.5)" dy="2.1">HOR 21087</text><text transform="translate(1792.7 506.8) rotate(-7.5)" dy="2.1">HOR 3272</text><text transform="translate(1793.5 512.7) rotate(-6.4)" dy="2.1">HOR 11839</text><text transform="translate(1794.1 518.6) rotate(-5.3)" dy="2.1">HOR 14876</text><text transform="translate(1794.6 524.5) rotate(-4.2)" dy="2.1">HOR 15890</text><text transform="translate(1791.1 530.7) rotate(-3.2)" dy="2.1">HOR 2024</text><text transform="translate(1791.3 536.6) rotate(-2.1)" dy="2.1">HOR 7219</text><text transform="translate(1791.5 542.4) rotate(-1)" dy="2.1">HOR 15742</text><text transform="translate(1791.6 548.3) rotate(0.1)" dy="2.1">HOR 6360</text><text transform="translate(1791.6 554.2) rotate(1.1)" dy="2.1">HOR 18139</text><text transform="translate(1791.4 560.1) rotate(2.2)" dy="2.1">HOR 18134</text><text transform="translate(1791.2 565.9) rotate(3.3)" dy="2.1">HOR 9043</text><text transform="translate(1790.8 571.8) rotate(4.4)" dy="2.1">HOR 3290</text><text transform="translate(1790.3 577.7) rotate(5.4)" dy="2.1">HOR 15224</text><text transform="translate(1789.7 583.5) rotate(6.5)" dy="2.1">HOR 15456</text><text transform="translate(1789 589.4) rotate(7.6)" dy="2.1">HOR 16231</text><text transform="translate(1788.2 595.2) rotate(8.6)" dy="2.1">HOR 14347</text><text transform="translate(1787.3 601) rotate(9.7)" dy="2.1">HOR 20674</text><text transform="translate(1786.3 606.8) rotate(10.8)" dy="2.1">HOR 9930</text><text transform="translate(1785.2 612.6) rotate(11.9)" dy="2.1">HOR 14217</text><text transform="translate(1783.9 618.3) rotate(12.9)" dy="2.1">HOR 14765</text><text transform="translate(1782.6 624.1) rotate(14)" dy="2.1">HOR 3620</text><text transform="translate(1781.1 629.8) rotate(15.1)" dy="2.1">HOR 14498</text><text transform="translate(1779.5 635.4) rotate(16.2)" dy="2.1">HOR 11112</text><text transform="translate(1777.9 641.1) rotate(17.2)" dy="2.1">HOR 20365</text><text transform="translate(1776.1 646.7) rotate(18.3)" dy="2.1">HOR 14792</text><text transform="translate(1774.2 652.3) rotate(19.4)" dy="2.1">HOR 18924</text><text transform="translate(1772.2 657.8) rotate(20.5)" dy="2.1">HOR 11735</text><text transform="translate(1770.2 663.3) rotate(21.5)" dy="2.1">HOR 19814</text><text transform="translate(1768 668.8) rotate(22.6)" dy="2.1">HOR 8347</text><text transform="translate(1765.7 674.2) rotate(23.7)" dy="2.1">HOR 15456</text><text transform="translate(1763.3 679.6) rotate(24.8)" dy="2.1">HOR 17236</text><text transform="translate(1760.8 684.9) rotate(25.8)" dy="2.1">HOR 17134</text><text transform="translate(1758.2 690.2) rotate(26.9)" dy="2.1">HOR 18624</text><text transform="translate(1755.5 695.4) rotate(28)" dy="2.1">HOR 15224</text><text transform="translate(1752.7 700.6) rotate(29.1)" dy="2.1">HOR 15742</text><text transform="translate(1751.5 706.8) rotate(30.1)" dy="2.1">HOR 10650</text><text transform="translate(1748.5 711.9) rotate(31.2)" dy="2.1">HOR 20143</text><text transform="translate(1745.4 716.9) rotate(32.3)" dy="2.1">HOR 11546</text><text transform="translate(1742.2 721.9) rotate(33.4)" dy="2.1">HOR 13821</text><text transform="translate(1739 726.9) rotate(34.4)" dy="2.1">HOR 10466</text><text transform="translate(1735.6 731.8) rotate(35.5)" dy="2.1">HOR 21550</text><text transform="translate(1732.1 736.6) rotate(36.6)" dy="2.1">HOR 7571</text><text transform="translate(1728.5 741.3) rotate(37.7)" dy="2.1">HOR 11480</text><text transform="translate(1724.9 746) rotate(38.7)" dy="2.1">HOR 3877</text><text transform="translate(1721.2 750.6) rotate(39.8)" dy="2.1">HOR 21605</text></g>
<g fill="#008000" stroke="#008000"><text transform="translate(1715.7 753.9) rotate(40.9)" dy="2.1">WBDC 010</text><text transform="translate(1712.4 757.7) rotate(41.8)" dy="2.1">WBDC 226</text><text transform="translate(1708.9 761.5) rotate(42.8)" dy="2.1">WBDC 182</text><text transform="translate(1705.5 765.2) rotate(43.7)" dy="2.1">WBDC 165</text><text transform="translate(1701.9 768.8) rotate(44.6)" dy="2.1">WBDC 104</text><text transform="translate(1696 775.4) rotate(46.2)" dy="2.1">WBDC 302</text><text transform="translate(1680.2 774.9) rotate(45.3)" dy="2.1">WBDC 048</text><text transform="translate(1676.1 779) rotate(46.4)" dy="2.1">WBDC 302</text><text transform="translate(1671.8 782.9) rotate(47.5)" dy="2.1">WBDC 251</text><text transform="translate(1667.5 786.8) rotate(48.5)" dy="2.1">WBDC 235</text><text transform="translate(1663.1 790.6) rotate(49.6)" dy="2.1">WBDC 214</text><text transform="translate(1658.7 794.4) rotate(50.7)" dy="2.1">WBDC 035</text><text transform="translate(1654.1 798) rotate(51.8)" dy="2.1">WBDC 009</text><text transform="translate(1649.5 801.5) rotate(52.9)" dy="2.1">WBDC 164</text><text transform="translate(1644.9 805) rotate(53.9)" dy="2.1">WBDC 170</text><text transform="translate(1640.2 808.4) rotate(55)" dy="2.1">WBDC 187</text><text transform="translate(1635.4 811.7) rotate(56.1)" dy="2.1">WBDC 243</text><text transform="translate(1630.5 814.9) rotate(57.2)" dy="2.1">WBDC 163</text><text transform="translate(1625.6 818) rotate(58.3)" dy="2.1">WBDC 222</text><text transform="translate(1620.6 821) rotate(59.3)" dy="2.1">WBDC 173</text><text transform="translate(1615.6 823.9) rotate(60.4)" dy="2.1">WBDC 183</text><text transform="translate(1610.5 826.7) rotate(61.5)" dy="2.1">WBDC 005</text><text transform="translate(1605.4 829.4) rotate(62.6)" dy="2.1">WBDC 041</text><text transform="translate(1600.2 832) rotate(63.7)" dy="2.1">WBDC 303</text><text transform="translate(1595 834.6) rotate(64.7)" dy="2.1">WBDC 185</text><text transform="translate(1589.7 837) rotate(65.8)" dy="2.1">WBDC 100</text><text transform="translate(1584.4 839.3) rotate(66.9)" dy="2.1">WBDC 201</text><text transform="translate(1579 841.6) rotate(68)" dy="2.1">WBDC 192</text><text transform="translate(1573.6 843.7) rotate(69.1)" dy="2.1">WBDC 059</text><text transform="translate(1568.2 845.7) rotate(70.2)" dy="2.1">WBDC 037</text><text transform="translate(1562.7 847.6) rotate(71.2)" dy="2.1">WBDC 245</text><text transform="translate(1557.2 849.4) rotate(72.3)" dy="2.1">WBDC 221</text><text transform="translate(1551.6 851.2) rotate(73.4)" dy="2.1">WBDC 116</text><text transform="translate(1546 852.8) rotate(74.5)" dy="2.1">WBDC 238</text><text transform="translate(1540.4 854.3) rotate(75.6)" dy="2.1">WBDC 028</text><text transform="translate(1534.8 855.7) rotate(76.6)" dy="2.1">WBDC 279</text><text transform="translate(1529.1 856.9) rotate(77.7)" dy="2.1">WBDC 079</text><text transform="translate(1523.4 858.1) rotate(78.8)" dy="2.1">WBDC 310</text><text transform="translate(1517.7 859.2) rotate(79.9)" dy="2.1">WBDC 071</text><text transform="translate(1512 860.2) rotate(81)" dy="2.1">WBDC 008</text><text transform="translate(1506.3 861) rotate(82)" dy="2.1">WBDC 055</text><text transform="translate(1500.5 861.8) rotate(83.1)" dy="2.1">WBDC 057</text><text transform="translate(1494.7 862.4) rotate(84.2)" dy="2.1">WBDC 140</text><text transform="translate(1489 863) rotate(85.3)" dy="2.1">WBDC 350</text><text transform="translate(1483.2 863.4) rotate(86.4)" dy="2.1">WBDC 209</text><text transform="translate(1477.4 863.7) rotate(87.4)" dy="2.1">WBDC 224</text><text transform="translate(1471.6 863.9) rotate(88.5)" dy="2.1">WBDC 331</text><text transform="translate(1465.8 864) rotate(89.6)" dy="2.1">WBDC 218</text><text transform="translate(1395.1 830) rotate(270.5)" dy="2.1" text-anchor="end">WBDC 010</text><text transform="translate(1390 830.1) rotate(271.6)" dy="2.1" text-anchor="end">WBDC 058</text><text transform="translate(1384.8 830.1) rotate(272.7)" dy="2.1" text-anchor="end">WBDC 135</text><text transform="translate(1379.7 830.1) rotate(273.8)" dy="2.1" text-anchor="end">WBDC 242</text><text transform="translate(1374.6 829.9) rotate(274.9)" dy="2.1" text-anchor="end">WBDC 112</text><text transform="translate(1369.5 829.6) rotate(276)" dy="2.1" text-anchor="end">WBDC 051</text><text transform="translate(1364.4 829.3) rotate(277.1)" dy="2.1" text-anchor="end">WBDC 266</text><text transform="translate(1359.2 828.8) rotate(278.2)" dy="2.1" text-anchor="end">WBDC 258</text><text transform="translate(1354.1 828.3) rotate(279.3)" dy="2.1" text-anchor="end">WBDC 013</text><text transform="translate(1349 827.6) rotate(280.4)" dy="2.1" text-anchor="end">WBDC 076</text><text transform="translate(1343.9 826.8) rotate(281.5)" dy="2.1" text-anchor="end">WBDC 129</text><text transform="translate(1338.8 826) rotate(282.6)" dy="2.1" text-anchor="end">WBDC 131</text><text transform="translate(1333.8 825) rotate(283.7)" dy="2.1" text-anchor="end">WBDC 118</text><text transform="translate(1328.7 824) rotate(284.8)" dy="2.1" text-anchor="end">WBDC 309</text><text transform="translate(1323.7 822.8) rotate(285.9)" dy="2.1" text-anchor="end">WBDC 231</text><text transform="translate(1318.7 821.6) rotate(287)" dy="2.1" text-anchor="end">WBDC 066</text><text transform="translate(1313.7 820.2) rotate(288.1)" dy="2.1" text-anchor="end">WBDC 086</text><text transform="translate(1308.7 818.8) rotate(289.2)" dy="2.1" text-anchor="end">WBDC 075</text><text transform="translate(1303.7 817.2) rotate(290.3)" dy="2.1" text-anchor="end">WBDC 229</text><text transform="translate(1296.9 810.3) rotate(292.2)" dy="2.1" text-anchor="end">WBDC 023</text><text transform="translate(1291.7 809.2) rotate(293.3)" dy="2.1" text-anchor="end">WBDC 209</text><text transform="translate(1286.5 808) rotate(294.4)" dy="2.1" text-anchor="end">WBDC 246</text><text transform="translate(1281.3 806.6) rotate(295.6)" dy="2.1" text-anchor="end">WBDC 077</text><text transform="translate(1276.1 805.2) rotate(296.7)" dy="2.1" text-anchor="end">WBDC 138</text><text transform="translate(1258.7 830.6) rotate(293.8)" dy="2.1" text-anchor="end">WBDC 120</text><text transform="translate(1253.4 829.6) rotate(294.9)" dy="2.1" text-anchor="end">WBDC 224</text><text transform="translate(1248.2 828.5) rotate(295.9)" dy="2.1" text-anchor="end">WBDC 265</text><text transform="translate(1242.9 827.3) rotate(296.9)" dy="2.1" text-anchor="end">WBDC 269</text><text transform="translate(1237.7 826) rotate(298)" dy="2.1" text-anchor="end">WBDC 084</text><text transform="translate(1252.1 790.6) rotate(297.2)" dy="2.1" text-anchor="end">WBDC 198</text><text transform="translate(1247.7 788.7) rotate(298.3)" dy="2.1" text-anchor="end">WBDC 087</text><text transform="translate(1243.4 786.7) rotate(299.4)" dy="2.1" text-anchor="end">WBDC 133</text><text transform="translate(1239.1 784.7) rotate(300.5)" dy="2.1" text-anchor="end">WBDC 206</text><text transform="translate(1234.8 782.5) rotate(301.6)" dy="2.1" text-anchor="end">WBDC 052</text><text transform="translate(1230.5 780.3) rotate(302.7)" dy="2.1" text-anchor="end">WBDC 280</text><text transform="translate(1226.3 778) rotate(303.8)" dy="2.1" text-anchor="end">WBDC 326</text><text transform="translate(1222.1 775.6) rotate(304.9)" dy="2.1" text-anchor="end">WBDC 278</text><text transform="translate(1218 773.1) rotate(306)" dy="2.1" text-anchor="end">WBDC 193</text><text transform="translate(1209.9 772) rotate(307.6)" dy="2.1" text-anchor="end">WBDC 065</text><text transform="translate(1205.4 768.8) rotate(308.9)" dy="2.1" text-anchor="end">WBDC 156</text><text transform="translate(1200.9 765.4) rotate(310.1)" dy="2.1" text-anchor="end">WBDC 295</text><text transform="translate(1196.5 762) rotate(311.4)" dy="2.1" text-anchor="end">WBDC 139</text><text transform="translate(1192.2 758.4) rotate(312.6)" dy="2.1" text-anchor="end">WBDC 257</text><text transform="translate(1191.1 750.6) rotate(314)" dy="2.1" text-anchor="end">WBDC 177</text><text transform="translate(1187.6 747.4) rotate(315.1)" dy="2.1" text-anchor="end">WBDC 195</text><text transform="translate(1184.1 744.2) rotate(316.2)" dy="2.1" text-anchor="end">WBDC 236</text><text transform="translate(1180.6 741) rotate(317.2)" dy="2.1" text-anchor="end">WBDC 105</text><text transform="translate(1177.2 737.6) rotate(318.3)" dy="2.1" text-anchor="end">WBDC 012</text><text transform="translate(1173.9 734.2) rotate(319.4)" dy="2.1" text-anchor="end">WBDC 083</text><text transform="translate(1170.6 730.7) rotate(320.5)" dy="2.1" text-anchor="end">WBDC 134</text><text transform="translate(1167.4 727.2) rotate(321.6)" dy="2.1" text-anchor="end">WBDC 315</text><text transform="translate(1164.3 723.6) rotate(322.6)" dy="2.1" text-anchor="end">WBDC 227</text><text transform="translate(1161.2 719.9) rotate(323.7)" dy="2.1" text-anchor="end">WBDC 263</text><text transform="translate(1158.2 716.2) rotate(324.8)" dy="2.1" text-anchor="end">WBDC 146</text><text transform="translate(1155.3 712.4) rotate(325.9)" dy="2.1" text-anchor="end">WBDC 318</text><text transform="translate(1152.4 708.6) rotate(327)" dy="2.1" text-anchor="end">WBDC 121</text><text transform="translate(1149.6 704.7) rotate(328)" dy="2.1" text-anchor="end">WBDC 167</text><text transform="translate(1146.9 700.7) rotate(329.1)" dy="2.1" text-anchor="end">WBDC 136</text><text transform="translate(1144.2 696.7) rotate(330.2)" dy="2.1" text-anchor="end">WBDC 213</text><text transform="translate(1155.8 666.3) rotate(332.9)" dy="2.1" text-anchor="end">WBDC 307</text><text transform="translate(1126.5 633.9) rotate(331.2)" dy="2.1" text-anchor="end">WBDC 235</text><text transform="translate(1124.4 630.2) rotate(332.2)" dy="2.1" text-anchor="end">WBDC 240</text><text transform="translate(1122.4 626.5) rotate(333.3)" dy="2.1" text-anchor="end">WBDC 020</text><text transform="translate(1120.5 622.7) rotate(334.3)" dy="2.1" text-anchor="end">WBDC 003</text><text transform="translate(1118.6 618.8) rotate(335.4)" dy="2.1" text-anchor="end">WBDC 067</text><text transform="translate(1116.8 615) rotate(336.4)" dy="2.1" text-anchor="end">WBDC 194</text><text transform="translate(1115.1 611.1) rotate(337.5)" dy="2.1" text-anchor="end">WBDC 212</text><text transform="translate(1113.4 607.2) rotate(338.5)" dy="2.1" text-anchor="end">WBDC 272</text><text transform="translate(1111.8 603.2) rotate(339.6)" dy="2.1" text-anchor="end">WBDC 200</text><text transform="translate(1110.3 599.2) rotate(340.6)" dy="2.1" text-anchor="end">WBDC 324</text><text transform="translate(1108.8 595.2) rotate(341.7)" dy="2.1" text-anchor="end">WBDC 208</text><text transform="translate(1107.5 591.1) rotate(342.7)" dy="2.1" text-anchor="end">WBDC 096</text><text transform="translate(1106.2 587.1) rotate(343.8)" dy="2.1" text-anchor="end">WBDC 162</text><text transform="translate(1104.9 583) rotate(344.8)" dy="2.1" text-anchor="end">WBDC 130</text><text transform="translate(1103.8 578.8) rotate(345.9)" dy="2.1" text-anchor="end">WBDC 252</text><text transform="translate(1102.7 574.7) rotate(346.9)" dy="2.1" text-anchor="end">WBDC 040</text><text transform="translate(1101.7 570.5) rotate(348)" dy="2.1" text-anchor="end">WBDC 298</text><text transform="translate(1100.8 566.4) rotate(349)" dy="2.1" text-anchor="end">WBDC 062</text><text transform="translate(1099.9 562.2) rotate(350.1)" dy="2.1" text-anchor="end">WBDC 213</text><text transform="translate(1099.2 557.9) rotate(351.1)" dy="2.1" text-anchor="end">WBDC 063</text><text transform="translate(1098.5 553.7) rotate(352.2)" dy="2.1" text-anchor="end">WBDC 109</text><text transform="translate(1097.8 549.5) rotate(353.2)" dy="2.1" text-anchor="end">WBDC 206</text><text transform="translate(1098.7 532.4) rotate(353.8)" dy="2.1" text-anchor="end">WBDC 030</text><text transform="translate(1097.9 528.5) rotate(354.8)" dy="2.1" text-anchor="end">WBDC 038</text><text transform="translate(1097.1 524.5) rotate(355.8)" dy="2.1" text-anchor="end">WBDC 049</text><text transform="translate(1096.4 520.6) rotate(356.9)" dy="2.1" text-anchor="end">WBDC 016</text><text transform="translate(1095.7 516.6) rotate(357.9)" dy="2.1" text-anchor="end">HOR 12420</text><text transform="translate(1095.2 512.6) rotate(358.9)" dy="2.1" text-anchor="end">WBDC 261</text><text transform="translate(1094.7 508.6) rotate(359.9)" dy="2.1" text-anchor="end">WBDC 214</text><text transform="translate(1094.2 504.6) rotate(360.9)" dy="2.1" text-anchor="end">HOR 22138</text><text transform="translate(1093.9 500.5) rotate(361.9)" dy="2.1" text-anchor="end">WBDC 126</text><text transform="translate(1093.6 496.5) rotate(362.9)" dy="2.1" text-anchor="end">WBDC 052</text><text transform="translate(1093.4 492.4) rotate(364)" dy="2.1" text-anchor="end">WBDC 043</text><text transform="translate(1093.2 488.3) rotate(365)" dy="2.1" text-anchor="end">WBDC 271</text><text transform="translate(1093.2 484.2) rotate(366)" dy="2.1" text-anchor="end">WBDC 276</text><text transform="translate(1093.2 472.9) rotate(366.9)" dy="2.1" text-anchor="end">WBDC 285</text><text transform="translate(1093.8 468.6) rotate(368)" dy="2.1" text-anchor="end">WBDC 085</text><text transform="translate(1094.5 464.3) rotate(369.1)" dy="2.1" text-anchor="end">WBDC 104</text><text transform="translate(1093.9 420.5) rotate(364)" dy="2.1" text-anchor="end">WBDC 201</text><text transform="translate(1093.6 416.2) rotate(365.4)" dy="2.1" text-anchor="end">WBDC 203</text><text transform="translate(1093.3 411.8) rotate(366.8)" dy="2.1" text-anchor="end">WBDC 015</text><text transform="translate(1093.1 407.4) rotate(368.1)" dy="2.1" text-anchor="end">WBDC 159</text><text transform="translate(1093.1 403) rotate(369.5)" dy="2.1" text-anchor="end">WBDC 319</text><text transform="translate(1093.2 398.5) rotate(370.9)" dy="2.1" text-anchor="end">WBDC 168</text><text transform="translate(1093.3 394.1) rotate(372.3)" dy="2.1" text-anchor="end">WBDC 256</text><text transform="translate(1093.6 389.6) rotate(373.7)" dy="2.1" text-anchor="end">WBDC 316</text><text transform="translate(1094 385.1) rotate(375.1)" dy="2.1" text-anchor="end">WBDC 123</text><text transform="translate(1094.5 380.6) rotate(376.4)" dy="2.1" text-anchor="end">WBDC 160</text><text transform="translate(1095.1 376.2) rotate(377.8)" dy="2.1" text-anchor="end">WBDC 289</text><text transform="translate(1095.9 371.7) rotate(379.2)" dy="2.1" text-anchor="end">WBDC 249</text><text transform="translate(1110.4 355.1) rotate(381.8)" dy="2.1" text-anchor="end">WBDC 153</text><text transform="translate(1111.2 351.1) rotate(383.1)" dy="2.1" text-anchor="end">WBDC 285</text><text transform="translate(1112.2 347.2) rotate(384.4)" dy="2.1" text-anchor="end">WBDC 142</text><text transform="translate(1113.2 343.2) rotate(385.7)" dy="2.1" text-anchor="end">WBDC 019</text><text transform="translate(1114.3 339.3) rotate(387)" dy="2.1" text-anchor="end">WBDC 007</text><text transform="translate(1115.5 335.4) rotate(388.3)" dy="2.1" text-anchor="end">WBDC 094</text><text transform="translate(1116.8 331.4) rotate(389.6)" dy="2.1" text-anchor="end">WBDC 304</text><text transform="translate(1118.2 327.5) rotate(390.9)" dy="2.1" text-anchor="end">WBDC 259</text><text transform="translate(1119.7 323.6) rotate(392.2)" dy="2.1" text-anchor="end">WBDC 001</text><text transform="translate(1124.5 317.8) rotate(389)" dy="2.1" text-anchor="end">WBDC 220</text><text transform="translate(1126.3 313.8) rotate(390.4)" dy="2.1" text-anchor="end">WBDC 155</text><text transform="translate(1128.2 309.9) rotate(391.7)" dy="2.1" text-anchor="end">WBDC 241</text><text transform="translate(1130.1 306.1) rotate(393.1)" dy="2.1" text-anchor="end">WBDC 029</text><text transform="translate(1132.2 302.2) rotate(394.5)" dy="2.1" text-anchor="end">WBDC 267</text><text transform="translate(1134.4 298.4) rotate(395.8)" dy="2.1" text-anchor="end">WBDC 113</text><text transform="translate(1136.6 294.7) rotate(397.2)" dy="2.1" text-anchor="end">WBDC 054</text><text transform="translate(1139 291) rotate(398.6)" dy="2.1" text-anchor="end">WBDC 291</text><text transform="translate(1141.4 287.4) rotate(399.9)" dy="2.1" text-anchor="end">WBDC 323</text><text transform="translate(1144 283.8) rotate(401.3)" dy="2.1" text-anchor="end">WBDC 301</text><text transform="translate(1163.1 283.7) rotate(402.7)" dy="2.1" text-anchor="end">WBDC 205</text><text transform="translate(1163.5 280.1) rotate(403.9)" dy="2.1" text-anchor="end">WBDC 150</text><text transform="translate(1164 276.6) rotate(405.1)" dy="2.1" text-anchor="end">WBDC 312</text><text transform="translate(1164.7 272.9) rotate(406.3)" dy="2.1" text-anchor="end">WBDC 027</text><text transform="translate(1165.4 269.3) rotate(407.5)" dy="2.1" text-anchor="end">WBDC 152</text><text transform="translate(1166.3 265.7) rotate(408.7)" dy="2.1" text-anchor="end">WBDC 284</text><text transform="translate(1167.3 262) rotate(409.9)" dy="2.1" text-anchor="end">WBDC 202</text><text transform="translate(1168.3 258.4) rotate(411)" dy="2.1" text-anchor="end">WBDC 248</text><text transform="translate(1169.5 254.7) rotate(412.2)" dy="2.1" text-anchor="end">WBDC 144</text><text transform="translate(1170.8 251.1) rotate(413.4)" dy="2.1" text-anchor="end">WBDC 234</text><text transform="translate(1172.2 247.4) rotate(414.6)" dy="2.1" text-anchor="end">WBDC 014</text><text transform="translate(1173.8 243.7) rotate(415.8)" dy="2.1" text-anchor="end">WBDC 132</text><text transform="translate(1175.4 240.1) rotate(417)" dy="2.1" text-anchor="end">WBDC 282</text><text transform="translate(1212.5 169.7) rotate(68)" dy="2.1" text-anchor="end">WBDC 037</text><text transform="translate(1213.3 164.5) rotate(68.2)" dy="2.1" text-anchor="end">WBDC 082</text><text transform="translate(1214 159.2) rotate(68.4)" dy="2.1" text-anchor="end">WBDC 145</text><text transform="translate(1214.7 153.9) rotate(68.6)" dy="2.1" text-anchor="end">WBDC 207</text><text transform="translate(1215.5 148.7) rotate(68.8)" dy="2.1" text-anchor="end">WBDC 095</text><text transform="translate(1216.2 143.4) rotate(69)" dy="2.1" text-anchor="end">WBDC 137</text><text transform="translate(1202 152.2) rotate(67)" dy="2.1" text-anchor="end">WBDC 253</text><text transform="translate(1204.3 149.6) rotate(67.4)" dy="2.1" text-anchor="end">WBDC 261</text><text transform="translate(1206.6 147.1) rotate(67.8)" dy="2.1" text-anchor="end">WBDC 002</text><text transform="translate(1208.9 144.6) rotate(68.2)" dy="2.1" text-anchor="end">WBDC 232</text><text transform="translate(1211.3 142.1) rotate(68.6)" dy="2.1" text-anchor="end">WBDC 068</text><text transform="translate(1213.6 139.6) rotate(69)" dy="2.1" text-anchor="end">WBDC 311</text><text transform="translate(1234.1 130.8) rotate(73)" dy="2.1" text-anchor="end">WBDC 343</text><text transform="translate(1232.8 128.6) rotate(73.2)" dy="2.1" text-anchor="end">WBDC 151</text><text transform="translate(1231.6 126.4) rotate(73.5)" dy="2.1" text-anchor="end">WBDC 268</text><text transform="translate(1230.4 124.2) rotate(73.8)" dy="2.1" text-anchor="end">WBDC 004</text><text transform="translate(1229.2 122) rotate(74)" dy="2.1" text-anchor="end">WBDC 174</text><text transform="translate(1227.9 119.7) rotate(74.2)" dy="2.1" text-anchor="end">WBDC 169</text><text transform="translate(1226.7 117.5) rotate(74.5)" dy="2.1" text-anchor="end">WBDC 228</text><text transform="translate(1225.5 115.3) rotate(74.8)" dy="2.1" text-anchor="end">WBDC 240</text><text transform="translate(1224.3 113.1) rotate(75)" dy="2.1" text-anchor="end">WBDC 046</text><text transform="translate(1243 121.4) rotate(75)" dy="2.1" text-anchor="end">WBDC 780</text><text transform="translate(1241.7 119.6) rotate(75.4)" dy="2.1" text-anchor="end">WBDC 022</text><text transform="translate(1240.3 117.7) rotate(75.8)" dy="2.1" text-anchor="end">WBDC 039</text><text transform="translate(1239 115.9) rotate(76.2)" dy="2.1" text-anchor="end">WBDC 060</text><text transform="translate(1237.7 114.1) rotate(76.6)" dy="2.1" text-anchor="end">WBDC 098</text><text transform="translate(1236.4 112.2) rotate(77)" dy="2.1" text-anchor="end">WBDC 276</text><text transform="translate(1254 117.2) rotate(79)" dy="2.1" text-anchor="end">WBDC 092</text><text transform="translate(1253.3 114.4) rotate(79.2)" dy="2.1" text-anchor="end">WBDC 107</text><text transform="translate(1252.6 111.6) rotate(79.4)" dy="2.1" text-anchor="end">WBDC 181</text><text transform="translate(1251.9 108.8) rotate(79.7)" dy="2.1" text-anchor="end">WBDC 189</text><text transform="translate(1251.2 106) rotate(79.9)" dy="2.1" text-anchor="end">WBDC 199</text><text transform="translate(1250.5 103.2) rotate(80.1)" dy="2.1" text-anchor="end">WBDC 111</text><text transform="translate(1249.8 100.4) rotate(80.3)" dy="2.1" text-anchor="end">WBDC 313</text><text transform="translate(1249.1 97.6) rotate(80.6)" dy="2.1" text-anchor="end">WBDC 072</text><text transform="translate(1248.4 94.8) rotate(80.8)" dy="2.1" text-anchor="end">WBDC 141</text><text transform="translate(1247.7 92) rotate(81)" dy="2.1" text-anchor="end">WBDC 103</text><text transform="translate(1271.9 106.7) rotate(83)" dy="2.1" text-anchor="end">WBDC 217</text><text transform="translate(1272.6 102.7) rotate(83.5)" dy="2.1" text-anchor="end">WBDC 043</text><text transform="translate(1273.2 98.8) rotate(84)" dy="2.1" text-anchor="end">WBDC 021</text><text transform="translate(1281.8 107.7) rotate(86)" dy="2.1" text-anchor="end">WBDC 237</text><text transform="translate(1282.8 104.6) rotate(86.3)" dy="2.1" text-anchor="end">WBDC 101</text><text transform="translate(1283.8 101.4) rotate(86.7)" dy="2.1" text-anchor="end">WBDC 102</text><text transform="translate(1284.7 98.3) rotate(87)" dy="2.1" text-anchor="end">WBDC 306</text><text transform="translate(1285.7 95.1) rotate(87.3)" dy="2.1" text-anchor="end">WBDC 190</text><text transform="translate(1286.7 92) rotate(87.7)" dy="2.1" text-anchor="end">WBDC 034</text><text transform="translate(1287.6 88.8) rotate(88)" dy="2.1" text-anchor="end">WBDC 292</text><text transform="translate(1291.8 97.2) rotate(-86)" dy="2.1">WBDC 197</text><text transform="translate(1293.1 94.4) rotate(-85.3)" dy="2.1">WBDC 056</text><text transform="translate(1294.3 91.6) rotate(-84.7)" dy="2.1">WBDC 244</text><text transform="translate(1295.5 88.8) rotate(-84)" dy="2.1">WBDC 127</text><text transform="translate(1297.6 93) rotate(-79)" dy="2.1">WBDC 320</text><text transform="translate(1298.7 92.1) rotate(-78.1)" dy="2.1">WBDC 157</text><text transform="translate(1299.7 91.3) rotate(-77.2)" dy="2.1">WBDC 044</text><text transform="translate(1300.8 90.4) rotate(-76.2)" dy="2.1">WBDC 091</text><text transform="translate(1301.8 89.5) rotate(-75.3)" dy="2.1">WBDC 119</text><text transform="translate(1302.9 88.6) rotate(-74.4)" dy="2.1">WBDC 006</text><text transform="translate(1303.9 87.8) rotate(-73.5)" dy="2.1">WBDC 089</text><text transform="translate(1305 86.9) rotate(-72.6)" dy="2.1">WBDC 250</text><text transform="translate(1306 86) rotate(-71.7)" dy="2.1">WBDC 099</text><text transform="translate(1307.1 85.1) rotate(-70.8)" dy="2.1">WBDC 184</text><text transform="translate(1308.1 84.3) rotate(-69.8)" dy="2.1">WBDC 073</text><text transform="translate(1309.2 83.4) rotate(-68.9)" dy="2.1">WBDC 305</text><text transform="translate(1310.2 82.5) rotate(-68)" dy="2.1">WBDC 211</text><text transform="translate(1432.6 829) rotate(90)" dy="2.1">FT262</text></g>
</g>
<rect x="-5.8" y="-5.8" width="11.5" height="11.5" fill="#ffa500" transform="translate(1558.5 197.5) rotate(13)"/><rect x="-5.8" y="-5.8" width="11.5" height="11.5" fill="#ffa500" transform="translate(1563.5 200.5) rotate(15)"/><rect x="-5" y="-5" width="10" height="10" fill="#800080" transform="translate(1575.9 202.7) rotate(17)"/><rect x="-5" y="-5" width="10" height="10" fill="#800080" transform="translate(1588 206.1) rotate(19)"/><rect x="-4.8" y="-4.8" width="9.6" height="9.6" fill="#0000ff" transform="translate(1747.3 310.7) rotate(48)"/><rect x="-5.8" y="-5.8" width="11.5" height="11.5" fill="#0000ff" transform="translate(1114.3 668.6) rotate(-24)"/>
<rect x="1872" y="280.3" width="59" height="14.4" fill="#008000"/><rect x="1872" y="353.6" width="59" height="14.4" fill="#ff0000"/><rect x="1878" y="425.2" width="47" height="45.8" fill="#ffa500"/><rect x="1878" y="512.4" width="47" height="45.8" fill="#0000ff"/><rect x="1878" y="596.6" width="47" height="45.8" fill="#800080"/><text class="k" x="1950.3" y="303.7" font-size="36.1">wild</text><text class="k" x="1950.3" y="377" font-size="36.1">domesticated</text><text class="k" x="1950.3" y="464.3" font-size="36.1">Yoram Cave</text><text class="k" x="1950.3" y="551.5" font-size="36.1">Timna 34</text><text class="k" x="1950.3" y="635.7" font-size="36.1">Abi'or Cave</text>
</g>
<g id="pc">
<text class="b" transform="translate(-2.5 1022.4) scale(1.1 1)" font-size="59.5">c</text>
<path d="M767.2 1052.2L812.5 1249.2M792.8 1052.2L829.6 1228.7M804.7 1035.2L829.6 1256M819.9 1057.4L839.2 1270.7M842.6 1071.1L856.9 1244.1M857.2 1036.9L853.5 1302.1M872.2 1021.6L863.8 1211.6M888.5 1019.9L874 1209.9M903.3 1023.3L881.9 1212.3M914.4 1054L878.1 1268.7M994.5 1060.8L951.6 1261.1M1003.9 1074.4L954.3 1286.8M1019.2 1079.5L959.4 1285.1M1036.8 1067.5L968 1260.1M1052.2 1076L973.1 1270.7M1063.9 1084.4L976.5 1269M1065.5 1103.1L976.5 1273.1M1098 1130.5L1005.6 1300.4M1121.7 1121.8L979.9 1332.9M1133.6 1133.8L1007.3 1310.7M1157.4 1135.4L1031.2 1296M1155.5 1160.8L1010.7 1331.2M1174.3 1169.3L1026.1 1326.7M1194.7 1177.8L1044.9 1320.9M1206.6 1184.5L1055.1 1317.5M1206.5 1198.1L1043.1 1332.9M750.5 1123.8L826.2 1394.4M734.1 1129L822.8 1391M730.2 1159.6L821.1 1385.8M709.6 1159.7L818.3 1385.8M1296.9 1324.4L1143.1 1439.6M1300.8 1344L1133.9 1456.6M1300.7 1361L1130 1464.5M1305.9 1374L1120.8 1471.1M1315 1387L1115.5 1476.3M1319 1401.4L1127.4 1479M1325.5 1413.9L1128.7 1486.8M1326.7 1426.9L1123.4 1492.1M1341.1 1454.8L1141.8 1510.5M1361.6 1467.1L1175.9 1507.9M1351 1481.6L1149.7 1517.8M1345 1495.8L1135.2 1522.3M1355.5 1510.4L1152.3 1526.2M1362.8 1524L1165.4 1529.4M1373.8 1535L1187 1533.3M1368.1 1547.1L1175.9 1537.3M1358.1 1556.1L1157.6 1536.7M1379.9 1695.2L1223.2 1679.6M1392.3 1709.3L1249.5 1688.8M1380.5 1716.3L1229.8 1689.6M1383.1 1737.4L1241.6 1702.7M1380.5 1751.2L1244.7 1710.1M1366.9 1758.1L1221.9 1708M1343.9 1761.4L1183.8 1696.2M1353.1 1856.4L1242.9 1806.4M1355.8 1870.7L1252.1 1815.6M1353.2 1886.4L1261.3 1830.1M1370.3 1906L1300.7 1860.3M1349.4 1909.9L1270.5 1849.8M1373.2 1937.2L1321.7 1900.5M1346.9 1932L1283.6 1873.4M1273.5 1950.2L1182.5 1859M1272.2 1964.6L1193 1876M1277.5 1984.2L1204.8 1895.7M1258 1981.5L1186.4 1883.9M1263.3 1998.5L1204.8 1914.1M1249 1995.7L1199.6 1903.6M1245.1 2002.3L1195.6 1911.5M1238.8 2006.1L1191.7 1907.6M1005.8 1987.5L913.5 1794.5M1000.2 2007L912.7 1802.9M987.8 2012.6L911.6 1809.9M976.7 2018.1L909.4 1800.1M965.6 2023.7L908 1802.9M954 2026.4L906.6 1790.3M839.5 2041.1L842.3 1815.5M854.6 2058.4L847.9 1851.8M869.9 2024.9L852.1 1784.7M890.7 2048.7L866 1837.8M907.4 2045.9L872.2 1833.6M681.6 1993.1L780.8 1795.9M691.3 2001.4L782.2 1808.5M708 2001.4L787.8 1790.3M714.8 2016.7L792 1798.7M731.5 2015.3L797 1807.1M744 2019.4L801.8 1795.9M757.9 2025L807.3 1809.9M778.1 2029.1L810.1 1800.1M792.5 2021.6L812.9 1791.7M806.3 2027.7L816.6 1799.3M374.7 1640.6L562.7 1639.3M372.3 1652L564.1 1640.2M379 1662.9L567 1642.2M385.3 1674.9L578.6 1649.5M376 1690.7L571.3 1652.3M392.5 1702.2L585.8 1657.6M394.8 1715.1L590.2 1658.1M403.4 1730L598.8 1662.5M428 1756.9L613.3 1684.2M422.1 1771.2L619.1 1679.8M435.1 1781.2L616.2 1685.6M437.1 1797.1L624.9 1685.6M454.4 1804.2L627.8 1681.3M458.1 1815.6L635 1691.4M491.3 1880.6L641.7 1764.3M491.2 1893.6L652.4 1765.2M499.8 1902.1L656.7 1769.5M512.8 1910.7L669.7 1765.2M537.3 1910.7L682.8 1747.8M538.7 1928L688.5 1753.6M560.3 1932.2L700.1 1785.5M544.2 1979.9L637.9 1840.4M564.4 1995.7L650.9 1852M600.4 1968.1L700.1 1785.5M605.4 1127.3L706.1 1339.1M587.8 1125.3L706.1 1339.1M580.1 1136.9L708.1 1352.9M568.3 1147.9L708.1 1352.9M554.7 1161.2L710.1 1362.7M540.9 1168.3L710.1 1362.7M568.6 1240.9L772.6 1471.7M556.9 1251.5L771 1471.3M537.3 1253.7L765.1 1468.9M520.9 1264.2L758.1 1466.2M528.4 1291.8L758.1 1466.6M517 1306.3L751.4 1470.9M509.2 1320.3L745.1 1475.6M474.6 1322.2L745.1 1476M488.4 1354.4L784.4 1505.5M478.7 1367.3L782.8 1505.1M381.2 1381.6L624.3 1465M457.1 1392.3L721.5 1503.2M424.5 1415.7L721.5 1503.6M448.2 1440.4L718.7 1517.3M449 1458.8L718.7 1517.7M410.9 1468.9L719.1 1518.1M440.4 1491.2L738.4 1531.9M364.9 1508.7L738.4 1532.3M364.1 1526.2L738.4 1537.8" stroke="#cfcfcf" stroke-width="0.9" stroke-dasharray="3.5 5.7" fill="none"/>
<path d="M856 1431.8L812.9 1249.1M854.1 1400.6L830.2 1229.6M852.3 1385.9L830.2 1255.4M848.6 1352.8L839.4 1271.9M846 1334.4L841.2 1301.3M865.1 1343.6L863.3 1212.4M862.2 1371.2L856 1245.4M865.1 1343.6L873.2 1208.7M865.9 1338.1L881.7 1212.4M864.4 1352.8L878 1269.3M859.6 1385.9L854.1 1301.3" stroke="#8000ff" stroke-width="1.6" fill="none" stroke-linecap="round"/>
<path d="M931.3 1360.1L951.5 1262.7M934.3 1351L968.1 1260.9M938.7 1338.1L976.2 1269M942.4 1328.9L973.6 1271.9M946 1321.5L955.2 1288.5M936.8 1343.6L962.6 1282.9M944.2 1325.2L960.7 1294" stroke="#ffff00" stroke-width="1.6" fill="none" stroke-linecap="round"/>
<path d="M1015.9 1351L1054.5 1317.9M931.3 1415.3L1004.9 1300.6M935 1411.6L979.1 1330.7M940.5 1419L1006.7 1310.5M949.7 1407.9L1031.3 1295.8M960.7 1396.9L1010.4 1330.7M971.8 1387.7L1026.9 1327.1M986.5 1374.9L1047.1 1319.7M1001.2 1362.7L1043.5 1330" stroke="#8b0000" stroke-width="1.6" fill="none" stroke-linecap="round"/>
<path d="M1026.3 1524.9L1143.1 1439.6M1039.4 1517.8L1133.9 1456.6M1065.7 1502.6L1130 1464.5M1052.5 1511L1120.8 1471.1M1047.3 1521L1115.5 1476.3M1060.4 1513.1L1127.4 1479M1068.3 1510.5L1128.7 1486.8M1076.2 1507.9L1123.4 1492.1" stroke="#00ffff" stroke-width="1.6" fill="none" stroke-linecap="round"/>
<path d="M1065.7 1532L1175.9 1507.9M1076.2 1531L1141.8 1510.5M1086.7 1529.4L1149.7 1517.8M1099.8 1528.3L1135.2 1522.3M1086.7 1531L1152.3 1526.2M1078.8 1531.5L1157.6 1531.5M1105 1531L1165.4 1529.4M1118.2 1532L1187 1533.3M1141.8 1535.4L1175.9 1537.3" stroke="#009999" stroke-width="1.6" fill="none" stroke-linecap="round"/>
<path d="M1154.9 1763.1L1242.9 1806.4M1162.8 1769.2L1252.1 1815.6M1170.7 1777.6L1261.3 1830.1M1183.8 1788.1L1270.5 1849.8M1194.3 1798.6L1300.7 1860.3M1210.1 1811.7L1283.6 1873.4M1225.8 1824.8L1321.7 1900.5" stroke="#00008b" stroke-width="1.6" fill="none" stroke-linecap="round"/>
<path d="M1139.2 1817L1182.5 1859M1147.1 1830.1L1193 1876M1154.9 1843.2L1204.8 1895.7M1160.2 1851.1L1186.4 1883.9M1157.6 1848.5L1199.6 1903.6M1168.1 1862.9L1204.8 1914.1M1168.1 1862.9L1195.6 1911.5M1164.1 1856.3L1191.7 1907.6" stroke="#2a2aff" stroke-width="1.6" fill="none" stroke-linecap="round"/>
<path d="M805 1745L780.8 1795.9M808 1738L782.2 1808.5M806 1742L787 1790M811 1730L792 1798.7M813 1725L797 1807.1M815 1722L802 1795M818 1710L807.3 1809.9M819 1712L810 1800M819 1720L812.9 1791.7M820 1705L816.6 1799.3" stroke="#ff0000" stroke-width="1.6" fill="none" stroke-linecap="round"/>
<path d="M843.1 1720L846.8 1849M842.4 1720L842.4 1817M844.9 1687L872.5 1834.4M843.8 1676L867 1838M844.5 1700L852.1 1784.7" stroke="#00ff00" stroke-width="1.6" fill="none" stroke-linecap="round"/>
<path d="M899.6 1765.2L911.6 1809.9M902.4 1770.7L913.5 1794.5M903.8 1779.1L909.4 1800.1M898.2 1759.6L908 1802.9M896.8 1754L906.6 1790.3M901 1767.9L912.7 1802.9" stroke="#00994d" stroke-width="1.6" fill="none" stroke-linecap="round"/>
<path d="M616.2 1637.9L562.7 1639.3M630.7 1637.9L564.1 1640.2M642.2 1640.8L567 1642.2M650.9 1637.9L578.6 1649.5M659.6 1636.4L571.3 1652.3M645.1 1642.2L585.8 1657.6M668.3 1635L590.2 1658.1M685.7 1632.1L598.8 1662.5M653.8 1666.2L613.3 1684.2M668.3 1661L619.1 1679.8M674.1 1659.6L627.8 1681.3M665.4 1663.9L624.9 1685.6M650.9 1668.3L616.2 1685.6M659.6 1666.8L635 1691.4M674.1 1740.6L652.4 1765.2M648 1759.4L641.7 1764.3M691.4 1727.6L656.7 1769.5M717.5 1707.3L669.7 1765.2M703 1718.9L682.8 1747.8M726.2 1701.5L688.5 1753.6M732 1695.8L700.1 1785.5M775.4 1649.5L637.9 1840.4M743.5 1682.7L650.9 1852M731 1385.9L705.2 1339.9M728.4 1381.5L708.9 1358.3M732.8 1390.3L713.7 1355.7M721.8 1374.9L707.1 1349.9" stroke="#ffa500" stroke-width="1.6" fill="none" stroke-linecap="round"/>
<path d="M856 1562.4L854.1 1547.6L861.5 1520.1L861.5 1514.6M861.5 1514.6L894.6 1463.1L931.3 1360.1M894.6 1463.1L914.8 1441L1015.9 1351M861.5 1514.6L844.9 1463.1L819.2 1385.9M844.9 1463.1L823.2 1387.7M840.1 1450.2L828.4 1426.3M861.5 1514.6L859.6 1407.9L865.1 1343.6M858.5 1437.4L846 1334.4M854.1 1547.6L832.1 1536.6L813.7 1514.6L795.3 1492.5L731 1385.9L703.4 1365.7M832.1 1536.6L736.5 1532.9M832.1 1536.6L780.6 1525.6L718.1 1516.4M802.6 1529.3L721.8 1503.5M813.7 1514.6L624.3 1464.9M813.7 1514.6L784.3 1505.4M806.3 1507.2L743.8 1476M800.8 1499.9L756.7 1466.8M795.3 1492.5L771.4 1472.3M856 1562.4L894.6 1567.9L1004.9 1537.4L1074.7 1507.2M1004.9 1537.4L1067.4 1532.2L1140.9 1535.9M894.6 1567.9L981 1628.5L1041.6 1689.2M1041.5 1689.1L1091.9 1751.3L1141.8 1819.6L1168.1 1862.9M1041.5 1689.1L1154.9 1763.1M981 1628.5L1104.1 1663.5L1221.8 1678.9M1104.1 1663.5L1249.3 1689.2M1122.5 1666.8L1229.1 1689.2M1129.9 1668.2L1181.3 1696.5M1137.2 1669.7L1240.1 1702.1M1144.6 1671.2L1243.8 1709.4M1151.9 1672.6L1221.8 1707.6M856 1562.4L844.9 1580.7L819.2 1595.4L747.5 1619.3L688.7 1630.4L615.1 1637.7M819.2 1595.4L776.9 1646.9L743.8 1683.7L718.1 1707.6L648.2 1764.6M747.5 1619.3L696 1648.8L653.8 1666M844.9 1580.7L844.9 1599.1L839.4 1632.2L821 1702.1L795.3 1771.9M844.9 1599.1L898.2 1753.5L905.6 1782.9M839.4 1632.2L843.1 1720.4M1154.9 1763.1L1225.8 1824.8" stroke="#000" stroke-width="1.6" fill="none" stroke-linecap="round"/>
<g font-size="13" stroke-width="0.3">
<text transform="translate(757 1016) rotate(74.2)" fill="#8000ff" stroke="#8000ff" text-anchor="middle" dy="0.36em">HOR 10157</text>
<text transform="translate(783.5 1016) rotate(75.6)" fill="#8000ff" stroke="#8000ff" text-anchor="middle" dy="0.36em">HOR 16080</text>
<text transform="translate(797.2 1003.2) rotate(76.8)" fill="#8000ff" stroke="#8000ff" text-anchor="middle" dy="0.36em">HOR 6954</text>
<text transform="translate(813.4 1020.3) rotate(80.1)" fill="#8000ff" stroke="#8000ff" text-anchor="middle" dy="0.36em">HOR 10089</text>
<text transform="translate(838.5 1034) rotate(83.7)" fill="#8000ff" stroke="#8000ff" text-anchor="middle" dy="0.36em">HOR 13928</text>
<text transform="translate(854.4 1003.2) rotate(85.2)" fill="#8000ff" stroke="#8000ff" text-anchor="middle" dy="0.36em">HOR 11480</text>
<text transform="translate(873.2 987.8) rotate(-88.4)" fill="#8000ff" stroke="#8000ff" text-anchor="middle" dy="0.36em">HOR 9930</text>
<text transform="translate(890.8 989.5) rotate(-85.7)" fill="#8000ff" stroke="#8000ff" text-anchor="middle" dy="0.36em">HOR 703</text>
<text transform="translate(908.5 989.5) rotate(-81.2)" fill="#8000ff" stroke="#8000ff" text-anchor="middle" dy="0.36em">HOR 7319</text>
<text transform="translate(922.4 1016.9) rotate(-77.9)" fill="#8000ff" stroke="#8000ff" text-anchor="middle" dy="0.36em">HOR 18924</text>
<text transform="translate(1004.7 1024.6) rotate(-74.2)" fill="#ffff00" stroke="#ffff00" text-anchor="middle" dy="0.36em">HOR 21558</text>
<text transform="translate(1015.5 1039.1) rotate(-71.9)" fill="#ffff00" stroke="#ffff00" text-anchor="middle" dy="0.36em">HOR 14135</text>
<text transform="translate(1032.6 1044.2) rotate(-69.2)" fill="#ffff00" stroke="#ffff00" text-anchor="middle" dy="0.36em">HOR 16958</text>
<text transform="translate(1051.7 1033.1) rotate(-66.6)" fill="#ffff00" stroke="#ffff00" text-anchor="middle" dy="0.36em">HOR 17134</text>
<text transform="translate(1065.4 1045.9) rotate(-66.4)" fill="#ffff00" stroke="#ffff00" text-anchor="middle" dy="0.36em">HOR 3081</text>
<text transform="translate(1081.6 1051) rotate(-62.2)" fill="#ffff00" stroke="#ffff00" text-anchor="middle" dy="0.36em">HOR 17572</text>
<text transform="translate(1085 1070.7) rotate(-59)" fill="#ffff00" stroke="#ffff00" text-anchor="middle" dy="0.36em">HOR 17570</text>
<text transform="translate(1117.5 1098) rotate(-59)" fill="#8b0000" stroke="#8b0000" text-anchor="middle" dy="0.36em">HOR 14217</text>
<text transform="translate(1142.2 1093.7) rotate(-53.7)" fill="#8b0000" stroke="#8b0000" text-anchor="middle" dy="0.36em">HOR 6908</text>
<text transform="translate(1153.3 1106.6) rotate(-54.1)" fill="#8b0000" stroke="#8b0000" text-anchor="middle" dy="0.36em">HOR 3327</text>
<text transform="translate(1181.5 1105.7) rotate(-50.9)" fill="#8b0000" stroke="#8b0000" text-anchor="middle" dy="0.36em">HOR 15915</text>
<text transform="translate(1181.5 1133) rotate(-47)" fill="#8b0000" stroke="#8b0000" text-anchor="middle" dy="0.36em">HOR 19289</text>
<text transform="translate(1202 1141.6) rotate(-45)" fill="#8b0000" stroke="#8b0000" text-anchor="middle" dy="0.36em">HOR 18935</text>
<text transform="translate(1222.5 1151) rotate(-44)" fill="#8b0000" stroke="#8b0000" text-anchor="middle" dy="0.36em">HOR 12157</text>
<text transform="translate(1236.2 1158.7) rotate(-41.2)" fill="#8b0000" stroke="#8b0000" text-anchor="middle" dy="0.36em">HOR 15573</text>
<text transform="translate(1237.9 1174) rotate(-37.4)" fill="#8b0000" stroke="#8b0000" text-anchor="middle" dy="0.36em">HOR 18794</text>
<text transform="translate(739.4 1098.9) rotate(66)" fill="#000" stroke="#000" text-anchor="middle" dy="0.36em">TU1122</text>
<text transform="translate(723.7 1104.8) rotate(66.6)" fill="#000" stroke="#000" text-anchor="middle" dy="0.36em">TU1123</text>
<text transform="translate(717.7 1135.6) rotate(62.5)" fill="#000" stroke="#000" text-anchor="middle" dy="0.36em">TU1125</text>
<text transform="translate(698.1 1135.6) rotate(64.4)" fill="#000" stroke="#000" text-anchor="middle" dy="0.36em">TU1121</text>
<text transform="translate(1328.9 1303) rotate(-33.7)" fill="#00ffff" stroke="#00ffff" text-anchor="middle" dy="0.36em">HOR 14765</text>
<text transform="translate(1330.2 1325.3) rotate(-32.4)" fill="#00ffff" stroke="#00ffff" text-anchor="middle" dy="0.36em">HOR 6220</text>
<text transform="translate(1330.9 1343.7) rotate(-29.7)" fill="#00ffff" stroke="#00ffff" text-anchor="middle" dy="0.36em">HOR 5620</text>
<text transform="translate(1336.8 1357.5) rotate(-28.1)" fill="#00ffff" stroke="#00ffff" text-anchor="middle" dy="0.36em">HOR 7872</text>
<text transform="translate(1346.6 1372) rotate(-25.5)" fill="#00ffff" stroke="#00ffff" text-anchor="middle" dy="0.36em">HOR 5913</text>
<text transform="translate(1350.6 1387.1) rotate(-24.4)" fill="#00ffff" stroke="#00ffff" text-anchor="middle" dy="0.36em">HOR 5647</text>
<text transform="translate(1357.8 1401.2) rotate(-21.4)" fill="#00ffff" stroke="#00ffff" text-anchor="middle" dy="0.36em">HOR 5313</text>
<text transform="translate(1359.1 1415.7) rotate(-19.1)" fill="#00ffff" stroke="#00ffff" text-anchor="middle" dy="0.36em">HOR 6033</text>
<text transform="translate(1378.2 1445.5) rotate(-14)" fill="#009999" stroke="#009999" text-anchor="middle" dy="0.36em">HOR 15456</text>
<text transform="translate(1398.6 1458) rotate(-13.8)" fill="#009999" stroke="#009999" text-anchor="middle" dy="0.36em">HOR 18134</text>
<text transform="translate(1388.4 1474.5) rotate(-10.8)" fill="#009999" stroke="#009999" text-anchor="middle" dy="0.36em">HOR 15224</text>
<text transform="translate(1382.4 1489.1) rotate(-10.2)" fill="#009999" stroke="#009999" text-anchor="middle" dy="0.36em">HOR 16231</text>
<text transform="translate(1389.7 1505.2) rotate(-8.6)" fill="#009999" stroke="#009999" text-anchor="middle" dy="0.36em">HOR 6360</text>
<text transform="translate(1396.9 1519.7) rotate(-7.2)" fill="#009999" stroke="#009999" text-anchor="middle" dy="0.36em">HOR 6699</text>
<text transform="translate(1408 1534.2) rotate(-1.2)" fill="#009999" stroke="#009999" text-anchor="middle" dy="0.36em">HOR 9043</text>
<text transform="translate(1402.2 1548.6) rotate(2.4)" fill="#009999" stroke="#009999" text-anchor="middle" dy="0.36em">HOR 3290</text>
<text transform="translate(1395.9 1560.1) rotate(6)" fill="#009999" stroke="#009999" text-anchor="middle" dy="0.36em">HOR 18139</text>
<text transform="translate(1417.5 1701.1) rotate(9)" fill="#000" stroke="#000" text-anchor="middle" dy="0.36em">HOR 15890</text>
<text transform="translate(1426.1 1715.5) rotate(10.4)" fill="#000" stroke="#000" text-anchor="middle" dy="0.36em">HOR 7219</text>
<text transform="translate(1413.6 1725.7) rotate(15.8)" fill="#000" stroke="#000" text-anchor="middle" dy="0.36em">HOR 3272</text>
<text transform="translate(1419.9 1747.6) rotate(15.6)" fill="#000" stroke="#000" text-anchor="middle" dy="0.36em">HOR 11839</text>
<text transform="translate(1416.9 1762.6) rotate(17.4)" fill="#000" stroke="#000" text-anchor="middle" dy="0.36em">HOR 14876</text>
<text transform="translate(1402.8 1771.7) rotate(20.7)" fill="#000" stroke="#000" text-anchor="middle" dy="0.36em">HOR 21087</text>
<text transform="translate(1378.8 1776.6) rotate(23.6)" fill="#000" stroke="#000" text-anchor="middle" dy="0.36em">HOR 15742</text>
<text transform="translate(1384.7 1870.8) rotate(24.4)" fill="#00008b" stroke="#00008b" text-anchor="middle" dy="0.36em">HOR 2383</text>
<text transform="translate(1389.3 1887.9) rotate(27.1)" fill="#00008b" stroke="#00008b" text-anchor="middle" dy="0.36em">HOR 17236</text>
<text transform="translate(1386.7 1904.9) rotate(29)" fill="#00008b" stroke="#00008b" text-anchor="middle" dy="0.36em">HOR 11112</text>
<text transform="translate(1403.1 1925.9) rotate(31.3)" fill="#00008b" stroke="#00008b" text-anchor="middle" dy="0.36em">HOR 20609</text>
<text transform="translate(1375.5 1926.6) rotate(32.6)" fill="#00008b" stroke="#00008b" text-anchor="middle" dy="0.36em">HOR 148</text>
<text transform="translate(1399.8 1958.8) rotate(39)" fill="#00008b" stroke="#00008b" text-anchor="middle" dy="0.36em">HOR 7571</text>
<text transform="translate(1375.5 1953.5) rotate(36.9)" fill="#00008b" stroke="#00008b" text-anchor="middle" dy="0.36em">HOR 8347</text>
<text transform="translate(1302.7 1975.2) rotate(40.5)" fill="#2a2aff" stroke="#2a2aff" text-anchor="middle" dy="0.36em">HOR 10243</text>
<text transform="translate(1300.7 1990.3) rotate(42)" fill="#2a2aff" stroke="#2a2aff" text-anchor="middle" dy="0.36em">HOR 22161</text>
<text transform="translate(1300 2006) rotate(44.1)" fill="#2a2aff" stroke="#2a2aff" text-anchor="middle" dy="0.36em">HOR 3726</text>
<text transform="translate(1283.6 2010) rotate(48)" fill="#2a2aff" stroke="#2a2aff" text-anchor="middle" dy="0.36em">HOR 18624</text>
<text transform="translate(1284.9 2023.8) rotate(49.4)" fill="#2a2aff" stroke="#2a2aff" text-anchor="middle" dy="0.36em">HOR 2024</text>
<text transform="translate(1271.8 2027) rotate(54)" fill="#2a2aff" stroke="#2a2aff" text-anchor="middle" dy="0.36em">HOR 12367</text>
<text transform="translate(1267.9 2034.3) rotate(54.6)" fill="#2a2aff" stroke="#2a2aff" text-anchor="middle" dy="0.36em">HOR 11546</text>
<text transform="translate(1258.7 2040.2) rotate(59.7)" fill="#2a2aff" stroke="#2a2aff" text-anchor="middle" dy="0.36em">HOR 11735</text>
<text transform="translate(1023.9 2021.6) rotate(61.9)" fill="#00994d" stroke="#00994d" text-anchor="middle" dy="0.36em">HOR 13886</text>
<text transform="translate(1015.6 2037.7) rotate(63.4)" fill="#00994d" stroke="#00994d" text-anchor="middle" dy="0.36em">HOR 4604</text>
<text transform="translate(1003.7 2047.4) rotate(65.5)" fill="#00994d" stroke="#00994d" text-anchor="middle" dy="0.36em">HOR 13821</text>
<text transform="translate(991.8 2054.4) rotate(67.4)" fill="#00994d" stroke="#00994d" text-anchor="middle" dy="0.36em">HOR 20365</text>
<text transform="translate(979.2 2060.7) rotate(69.8)" fill="#00994d" stroke="#00994d" text-anchor="middle" dy="0.36em">HOR 21605</text>
<text transform="translate(964.3 2058.6) rotate(72.3)" fill="#00994d" stroke="#00994d" text-anchor="middle" dy="0.36em">HOR 2784</text>
<text transform="translate(839.5 2075.8) rotate(-90)" fill="#00ff00" stroke="#00ff00" text-anchor="middle" dy="0.36em">HOR 12203</text>
<text transform="translate(857.2 2095.6) rotate(86)" fill="#00ff00" stroke="#00ff00" text-anchor="middle" dy="0.36em">HOR 20674</text>
<text transform="translate(874.4 2062.1) rotate(83)" fill="#00ff00" stroke="#00ff00" text-anchor="middle" dy="0.36em">HOR 12205</text>
<text transform="translate(896.8 2086.6) rotate(80.9)" fill="#00ff00" stroke="#00ff00" text-anchor="middle" dy="0.36em">HOR 12152</text>
<text transform="translate(914.9 2083.1) rotate(78.5)" fill="#00ff00" stroke="#00ff00" text-anchor="middle" dy="0.36em">HOR 12168</text>
<text transform="translate(663.4 2027.2) rotate(-61.9)" fill="#ff0000" stroke="#ff0000" text-anchor="middle" dy="0.36em">HOR 11117</text>
<text transform="translate(673.9 2035.6) rotate(-62.9)" fill="#ff0000" stroke="#ff0000" text-anchor="middle" dy="0.36em">HOR 20143</text>
<text transform="translate(692.1 2037) rotate(-65.9)" fill="#ff0000" stroke="#ff0000" text-anchor="middle" dy="0.36em">HOR 21695</text>
<text transform="translate(700.4 2052.3) rotate(-68)" fill="#ff0000" stroke="#ff0000" text-anchor="middle" dy="0.36em">HOR 14439</text>
<text transform="translate(720 2048.1) rotate(-70.8)" fill="#ff0000" stroke="#ff0000" text-anchor="middle" dy="0.36em">HOR 3620</text>
<text transform="translate(732.6 2055.8) rotate(-72.6)" fill="#ff0000" stroke="#ff0000" text-anchor="middle" dy="0.36em">HOR 18766</text>
<text transform="translate(747.5 2061.1) rotate(-74.1)" fill="#ff0000" stroke="#ff0000" text-anchor="middle" dy="0.36em">HOR 17549</text>
<text transform="translate(770 2065.6) rotate(-77.5)" fill="#ff0000" stroke="#ff0000" text-anchor="middle" dy="0.36em">HOR 18788</text>
<text transform="translate(786.4 2058.6) rotate(-80.7)" fill="#ff0000" stroke="#ff0000" text-anchor="middle" dy="0.36em">HOR 17444</text>
<text transform="translate(801.8 2064.2) rotate(-82.9)" fill="#ff0000" stroke="#ff0000" text-anchor="middle" dy="0.36em">HOR 14347</text>
<text transform="translate(336.7 1642.9) rotate(-3.5)" fill="#ffa500" stroke="#ffa500" text-anchor="middle" dy="0.36em">HOR 14792</text>
<text transform="translate(334.3 1656) rotate(-5.9)" fill="#ffa500" stroke="#ffa500" text-anchor="middle" dy="0.36em">HOR 10756</text>
<text transform="translate(344.9 1668.3) rotate(-9)" fill="#ffa500" stroke="#ffa500" text-anchor="middle" dy="0.36em">HOR 9618</text>
<text transform="translate(347.4 1682) rotate(-10.5)" fill="#ffa500" stroke="#ffa500" text-anchor="middle" dy="0.36em">HOR 10466</text>
<text transform="translate(339.1 1699.4) rotate(-13.2)" fill="#ffa500" stroke="#ffa500" text-anchor="middle" dy="0.36em">HOR 10777</text>
<text transform="translate(355.3 1712.4) rotate(-15.3)" fill="#ffa500" stroke="#ffa500" text-anchor="middle" dy="0.36em">HOR 10650</text>
<text transform="translate(357.9 1726.9) rotate(-17.7)" fill="#ffa500" stroke="#ffa500" text-anchor="middle" dy="0.36em">HOR 10899</text>
<text transform="translate(367.3 1743.5) rotate(-20.5)" fill="#ffa500" stroke="#ffa500" text-anchor="middle" dy="0.36em">HOR 10741</text>
<text transform="translate(392.2 1771) rotate(-21.5)" fill="#ffa500" stroke="#ffa500" text-anchor="middle" dy="0.36em">HOR 14498</text>
<text transform="translate(387.3 1787.6) rotate(-25.3)" fill="#ffa500" stroke="#ffa500" text-anchor="middle" dy="0.36em">HOR 14351</text>
<text transform="translate(403.5 1797) rotate(-26.6)" fill="#ffa500" stroke="#ffa500" text-anchor="middle" dy="0.36em">HOR 7964</text>
<text transform="translate(409.6 1811.9) rotate(-28.4)" fill="#ffa500" stroke="#ffa500" text-anchor="middle" dy="0.36em">HOR 154</text>
<text transform="translate(420.7 1823.8) rotate(-30.2)" fill="#ffa500" stroke="#ffa500" text-anchor="middle" dy="0.36em">HOR 21339</text>
<text transform="translate(425.5 1837.6) rotate(-33.9)" fill="#ffa500" stroke="#ffa500" text-anchor="middle" dy="0.36em">HOR 17093</text>
<text transform="translate(459.2 1904.1) rotate(-36.2)" fill="#ffa500" stroke="#ffa500" text-anchor="middle" dy="0.36em">HOR 20128</text>
<text transform="translate(460.7 1917.9) rotate(-38.5)" fill="#ffa500" stroke="#ffa500" text-anchor="middle" dy="0.36em">HOR 21552</text>
<text transform="translate(470.8 1928) rotate(-41.7)" fill="#ffa500" stroke="#ffa500" text-anchor="middle" dy="0.36em">HOR 21582</text>
<text transform="translate(483.8 1938.1) rotate(-43.4)" fill="#ffa500" stroke="#ffa500" text-anchor="middle" dy="0.36em">HOR 21878</text>
<text transform="translate(509.9 1938.1) rotate(-45)" fill="#ffa500" stroke="#ffa500" text-anchor="middle" dy="0.36em">HOR 21550</text>
<text transform="translate(512 1956.2) rotate(-46.6)" fill="#ffa500" stroke="#ffa500" text-anchor="middle" dy="0.36em">HOR 19814</text>
<text transform="translate(535.2 1962) rotate(-49.9)" fill="#ffa500" stroke="#ffa500" text-anchor="middle" dy="0.36em">HOR 20121</text>
<text transform="translate(520 2011.2) rotate(-52.2)" fill="#ffa500" stroke="#ffa500" text-anchor="middle" dy="0.36em">HOR 20159</text>
<text transform="translate(542.4 2027.1) rotate(-55)" fill="#ffa500" stroke="#ffa500" text-anchor="middle" dy="0.36em">HOR 17925</text>
<text transform="translate(580 2000.3) rotate(-57.6)" fill="#ffa500" stroke="#ffa500" text-anchor="middle" dy="0.36em">HOR 17911</text>
<text transform="translate(585.2 1094.2) rotate(58.5)" fill="#ffa500" stroke="#ffa500" text-anchor="middle" dy="0.36em">HOR 16340</text>
<text transform="translate(568.1 1095.2) rotate(56.7)" fill="#ffa500" stroke="#ffa500" text-anchor="middle" dy="0.36em">HOR 4558</text>
<text transform="translate(558.6 1109) rotate(52.4)" fill="#ffa500" stroke="#ffa500" text-anchor="middle" dy="0.36em">HOR 3877</text>
<text transform="translate(545.8 1119.4) rotate(51.7)" fill="#ffa500" stroke="#ffa500" text-anchor="middle" dy="0.36em">HOR 9582</text>
<text transform="translate(528.1 1131) rotate(48.6)" fill="#ffa500" stroke="#ffa500" text-anchor="middle" dy="0.36em">HOR 20586</text>
<text transform="translate(517.7 1141.4) rotate(49.2)" fill="#ffa500" stroke="#ffa500" text-anchor="middle" dy="0.36em">HOR 3941</text>
<text transform="translate(549.2 1222.1) rotate(44)" fill="#000" stroke="#000" text-anchor="middle" dy="0.36em">TU1111</text>
<text transform="translate(536 1231.7) rotate(43.5)" fill="#000" stroke="#000" text-anchor="middle" dy="0.36em">TU1112</text>
<text transform="translate(518.3 1237.4) rotate(40.7)" fill="#000" stroke="#000" text-anchor="middle" dy="0.36em">TU697</text>
<text transform="translate(498.2 1247.3) rotate(36.8)" fill="#000" stroke="#000" text-anchor="middle" dy="0.36em">TU1117</text>
<text transform="translate(506.3 1275.2) rotate(36.9)" fill="#000" stroke="#000" text-anchor="middle" dy="0.36em">TU1118</text>
<text transform="translate(494.3 1290) rotate(35.7)" fill="#000" stroke="#000" text-anchor="middle" dy="0.36em">TU1116</text>
<text transform="translate(486 1304.9) rotate(33.7)" fill="#000" stroke="#000" text-anchor="middle" dy="0.36em">TU1119</text>
<text transform="translate(451 1307.7) rotate(31.7)" fill="#000" stroke="#000" text-anchor="middle" dy="0.36em">TU1120</text>
<text transform="translate(464.6 1340.1) rotate(31)" fill="#000" stroke="#000" text-anchor="middle" dy="0.36em">TU1114</text>
<text transform="translate(454.4 1354.5) rotate(27.8)" fill="#000" stroke="#000" text-anchor="middle" dy="0.36em">TU1115</text>
<text transform="translate(356 1371.2) rotate(22.4)" fill="#000" stroke="#000" text-anchor="middle" dy="0.36em">JK3014</text>
<text transform="translate(431.7 1381.2) rotate(23.5)" fill="#000" stroke="#000" text-anchor="middle" dy="0.36em">JK3009</text>
<text transform="translate(399.3 1406.8) rotate(19.3)" fill="#000" stroke="#000" text-anchor="middle" dy="0.36em">JK2281</text>
<text transform="translate(422.7 1432.2) rotate(17.8)" fill="#000" stroke="#000" text-anchor="middle" dy="0.36em">TU1110</text>
<text transform="translate(423.3 1450.7) rotate(17.7)" fill="#000" stroke="#000" text-anchor="middle" dy="0.36em">JK3013</text>
<text transform="translate(384.9 1462.7) rotate(13.5)" fill="#000" stroke="#000" text-anchor="middle" dy="0.36em">TU1107</text>
<text transform="translate(414.4 1485.7) rotate(12.1)" fill="#000" stroke="#000" text-anchor="middle" dy="0.36em">TU1109</text>
<text transform="translate(339.3 1505.3) rotate(7.4)" fill="#000" stroke="#000" text-anchor="middle" dy="0.36em">JK3010</text>
<text transform="translate(337.9 1524.4) rotate(3.9)" fill="#000" stroke="#000" text-anchor="middle" dy="0.36em">TU1103</text>
</g>
<polygon points="-8.5,0 6,-7.8 6,7.8" fill="#ff9a2e" transform="translate(287.2 1644.2) rotate(-3.5)"/><polygon points="-8.5,0 6,-7.8 6,7.8" fill="#ff9a2e" transform="translate(284.9 1659.6) rotate(-5.9)"/><polygon points="-8.5,0 6,-7.8 6,7.8" fill="#ff9a2e" transform="translate(299.3 1673.2) rotate(-9)"/><polygon points="-8.5,0 6,-7.8 6,7.8" fill="#ff9a2e" transform="translate(298.7 1688.5) rotate(-10.5)"/><polygon points="-8.5,0 6,-7.8 6,7.8" fill="#ff9a2e" transform="translate(291.5 1708.8) rotate(-13.2)"/><polygon points="-8.5,0 6,-7.8 6,7.8" fill="#ff9a2e" transform="translate(308 1723.8) rotate(-15.3)"/><polygon points="-8.5,0 6,-7.8 6,7.8" fill="#ff9a2e" transform="translate(310 1739.2) rotate(-17.7)"/><polygon points="-8.5,0 6,-7.8 6,7.8" fill="#ff9a2e" transform="translate(321 1757.4) rotate(-20.5)"/><polygon points="343.5,1784.3 347,1788.2 352,1786.5 349.3,1791.1 352.5,1795.3 347.4,1794.2 344.3,1798.5 343.8,1793.3 338.7,1791.7 343.5,1789.6" fill="#ff9a2e"/><polygon points="339.5,1801.8 343.3,1805.5 348.2,1803.5 345.9,1808.2 349.3,1812.2 344.1,1811.5 341.3,1816 340.4,1810.8 335.3,1809.6 340,1807.1" fill="#ff9a2e"/><polygon points="358.2,1812 362.1,1815.6 366.9,1813.5 364.7,1818.3 368.2,1822.2 363,1821.6 360.3,1826.1 359.3,1821 354.1,1819.9 358.7,1817.3" fill="#ff9a2e"/><polygon points="369.6,1826.6 373.5,1830.1 378.3,1827.8 376.2,1832.6 379.9,1836.5 374.6,1836 372.1,1840.6 370.9,1835.5 365.7,1834.6 370.3,1831.9" fill="#ff9a2e"/><polygon points="374.3,1844.1 378.4,1847.4 383,1845 381.1,1849.9 384.9,1853.6 379.6,1853.3 377.3,1858 375.9,1852.9 370.7,1852.2 375.2,1849.3" fill="#ff9a2e"/><polygon points="379.6,1861.1 383.9,1864.2 388.4,1861.5 386.9,1866.5 390.9,1869.9 385.6,1870 383.6,1874.9 381.9,1869.8 376.6,1869.4 380.9,1866.3" fill="#ff9a2e"/><rect x="-6.9" y="-6.9" width="13.8" height="13.8" fill="#ff9a2e" transform="translate(420 1933.6) rotate(-36.2)"/><rect x="-6.9" y="-6.9" width="13.8" height="13.8" fill="#ff9a2e" transform="translate(422.3 1950.4) rotate(-38.5)"/><rect x="-6.9" y="-6.9" width="13.8" height="13.8" fill="#ff9a2e" transform="translate(433.3 1961.4) rotate(-41.7)"/><rect x="-6.9" y="-6.9" width="13.8" height="13.8" fill="#ff9a2e" transform="translate(448.4 1973.6) rotate(-43.4)"/><rect x="-6.9" y="-6.9" width="13.8" height="13.8" fill="#ff9a2e" transform="translate(475.8 1975) rotate(-45)"/><rect x="-6.9" y="-6.9" width="13.8" height="13.8" fill="#ff9a2e" transform="translate(480.8 1994.4) rotate(-46.6)"/><rect x="-6.9" y="-6.9" width="13.8" height="13.8" fill="#ff9a2e" transform="translate(504.8 2002.5) rotate(-49.9)"/><rect x="-6.9" y="-6.9" width="13.8" height="13.8" fill="#ff9a2e" transform="translate(491.8 2053.1) rotate(-52.2)"/><rect x="-6.9" y="-6.9" width="13.8" height="13.8" fill="#ff9a2e" transform="translate(515.5 2069.6) rotate(-55)"/><rect x="-6.9" y="-6.9" width="13.8" height="13.8" fill="#ff9a2e" transform="translate(555.4 2043.9) rotate(-57.6)"/><circle cx="561.8" cy="1050" r="7.2" fill="#ff9a2e"/><circle cx="545.6" cy="1054.7" r="7.2" fill="#ff9a2e"/><circle cx="533.8" cy="1069.7" r="7.2" fill="#ff9a2e"/><circle cx="519.3" cy="1080.3" r="7.2" fill="#ff9a2e"/><circle cx="497.6" cy="1090.5" r="7.2" fill="#ff9a2e"/><circle cx="489" cy="1105.1" r="7.2" fill="#ff9a2e"/>
<text class="k" x="296" y="1248" font-size="30">Timna 34</text>
<text class="k" x="243.5" y="1398" font-size="30" text-anchor="middle">Yoram</text>
<text class="k" x="243.5" y="1435" font-size="30" text-anchor="middle">Cave</text>
<text class="k" x="631.5" y="1009" font-size="30">Abi'or</text>
<text class="k" x="631.5" y="1046" font-size="30">Cave</text>
<path d="M491.7 1168.0Q482.7 1168.0 473.5 1185.5L446.8 1236.1Q437.5 1253.6 428.5 1253.6Q437.5 1253.6 428.2 1271.1L401.5 1321.6Q392.3 1339.1 401.3 1339.1" fill="none" stroke="#000" stroke-width="3.5" stroke-linecap="round" stroke-linejoin="round"/><path d="M338.3 1345.0Q329.3 1345.0 322.5 1363.6L302.7 1416.9Q295.9 1435.5 286.9 1435.5Q295.9 1435.5 289.0 1454.1L269.3 1507.4Q262.4 1526.0 271.4 1526.0" fill="none" stroke="#000" stroke-width="3.5" stroke-linecap="round" stroke-linejoin="round"/><path d="M672.7 1097.2Q672.7 1090.8 684.9 1083.8L690.4 1080.7Q702.6 1073.7 702.6 1067.3Q702.6 1073.7 714.8 1066.7L720.3 1063.6Q732.5 1056.6 732.5 1063.0" fill="none" stroke="#000" stroke-width="3.5" stroke-linecap="round" stroke-linejoin="round"/>
<circle cx="32.6" cy="1394.7" r="10.8" fill="#ffa500"/><text class="k" x="63" y="1402" font-size="20.6">ISR-THS</text>
<rect x="22.5" y="1421.2" width="19.6" height="19.6" fill="#ffa500"/><text class="k" x="63" y="1438.5" font-size="20.6">SYR-THM</text>
<polygon points="32.6,1455.3 43,1476.8 22.2,1476.8" fill="#ff9a2e"/><text class="k" x="63" y="1475.1" font-size="20.6">GEO-THS</text>
<polygon points="32.6,1492.8 35.6,1500.7 44,1501.1 37.4,1506.3 39.7,1514.5 32.6,1509.8 25.5,1514.5 27.8,1506.3 21.2,1501.1 29.6,1500.7" fill="#ff9a2e"/><text class="k" x="63" y="1511.6" font-size="20.6">IRN-THS</text>
<rect x="18.5" y="1535.8" width="27.5" height="10.2" fill="#008000"/><text class="k" x="63" y="1548.1" font-size="20.6">TUR-THM</text>
<rect x="18.5" y="1572.4" width="27.5" height="10.2" fill="#00ff00"/><text class="k" x="63" y="1584.7" font-size="20.6">EU-THM</text>
<rect x="18.5" y="1608.9" width="27.5" height="10.2" fill="#ff0000"/><text class="k" x="63" y="1621.2" font-size="20.6">EU-THS</text>
<rect x="18.5" y="1645.4" width="27.5" height="10.2" fill="#8000ff"/><text class="k" x="63" y="1657.7" font-size="20.6">ME-SHS</text>
<rect x="18.5" y="1681.9" width="27.5" height="10.2" fill="#ffff00"/><text class="k" x="63" y="1694.2" font-size="20.6">EU-SHW</text>
<rect x="18.5" y="1718.5" width="27.5" height="10.2" fill="#8b0000"/><text class="k" x="63" y="1730.8" font-size="20.6">EU-SHM</text>
<rect x="18.5" y="1755" width="27.5" height="10.2" fill="#00ffff"/><text class="k" x="63" y="1767.3" font-size="20.6">ETH-MHS</text>
<rect x="18.5" y="1791.5" width="27.5" height="10.2" fill="#009999"/><text class="k" x="63" y="1803.8" font-size="20.6">ETH-MNS</text>
<rect x="18.5" y="1828.1" width="27.5" height="10.2" fill="#000"/><text class="k" x="63" y="1840.4" font-size="20.6">CA-SHS</text>
<rect x="18.5" y="1864.6" width="27.5" height="10.2" fill="#00008b"/><text class="k" x="63" y="1876.9" font-size="20.6">CA-SNS</text>
<rect x="18.5" y="1901.1" width="27.5" height="10.2" fill="#0000ff"/><text class="k" x="63" y="1913.4" font-size="20.6">EA-SHM</text>
</g>
<g id="pd">
<text class="b" transform="translate(1428.6 1021.8) scale(1.1 1)" font-size="59.5">d</text>
<rect x="1734.2" y="989.2" width="33.4" height="32.8" fill="#ffa500"/><text class="k" x="1785.5" y="1014.4" font-size="30">ISR-THS vs. Yoram Cave</text>
<rect x="1734.2" y="1052.5" width="33.4" height="32.8" fill="#0000ff"/><text class="k" x="1785.5" y="1077.7" font-size="30">ISR-THS vs .Timna 34</text>
<rect x="1734.2" y="1112.8" width="33.4" height="32.8" fill="#800080"/><text class="k" x="1785.5" y="1138" font-size="30">ISR-THS vs. Abi'or Cave</text>
<rect x="1687.7" y="1169.7" width="471.6" height="706.5" fill="none" stroke="#000" stroke-width="2.1"/>
<text class="k" x="1668" y="1180.8" font-size="29.4" text-anchor="end">0.10</text>
<text class="k" x="1668" y="1322.1" font-size="29.4" text-anchor="end">0.05</text>
<text class="k" x="1668" y="1463.4" font-size="29.4" text-anchor="end">0.00</text>
<text class="k" x="1668" y="1604.7" font-size="29.4" text-anchor="end">-0.05</text>
<text class="k" x="1668" y="1746" font-size="29.4" text-anchor="end">-0.10</text>
<text class="k" x="1668" y="1887.3" font-size="29.4" text-anchor="end">-0.15</text>
<path d="M1687.7 1169.7h-11.5M1687.7 1311h-11.5M1687.7 1452.3h-11.5M1687.7 1593.6h-11.5M1687.7 1734.9h-11.5M1687.7 1876.2h-11.5M1687.7 1240.4h-5.8M1687.7 1381.7h-5.8M1687.7 1523h-5.8M1687.7 1664.2h-5.8M1687.7 1805.6h-5.8M1751 1876.2v11.5M1795.2 1876.2v11.5M1920.4 1876.2v11.5M1964.6 1876.2v11.5M2090.2 1876.2v11.5M2134.3 1876.2v11.5" stroke="#000" stroke-width="2.1" fill="none"/>
<text class="k" transform="translate(1565.3 1531) rotate(-90)" font-size="37.65" text-anchor="middle">Relative diversity change</text>
<path d="M1751 1249.5V1301.4M1751 1371.3V1373.2M1739.5 1249.5h23M1739.5 1373.2h23" stroke="#000" stroke-width="1.8" fill="none"/><rect x="1735" y="1301.4" width="32" height="69.9" fill="#ffa500" stroke="#000" stroke-width="1.8"/><path d="M1735 1312.5h32" stroke="#000" stroke-width="1.8"/>
<path d="M1795.2 1265.3V1284.9M1795.2 1389.7V1400.5M1783.7 1265.3h23M1783.7 1400.5h23" stroke="#000" stroke-width="1.8" fill="none"/><rect x="1779.2" y="1284.9" width="32" height="104.8" fill="#ffa500" stroke="#000" stroke-width="1.8"/><path d="M1779.2 1302.9h32" stroke="#000" stroke-width="1.8"/>
<path d="M1920.4 1413.8V1426.1M1920.4 1499.7V1525.6M1908.9 1413.8h23M1908.9 1525.6h23" stroke="#000" stroke-width="1.8" fill="none"/><rect x="1904.4" y="1426.1" width="32" height="73.6" fill="#0000ff" stroke="#000" stroke-width="1.8"/><path d="M1904.4 1444.7h32" stroke="#000" stroke-width="1.8"/>
<path d="M1964.6 1526.7V1526.7M1964.6 1590.5V1603.5M1953.1 1526.7h23M1953.1 1603.5h23" stroke="#000" stroke-width="1.8" fill="none"/><rect x="1948.6" y="1526.7" width="32" height="63.8" fill="#0000ff" stroke="#000" stroke-width="1.8"/><path d="M1948.6 1555.2h32" stroke="#000" stroke-width="1.8"/>
<path d="M2090.2 1755.4V1757.2M2090.2 1847.4V1864.3M2078.7 1755.4h23M2078.7 1864.3h23" stroke="#000" stroke-width="1.8" fill="none"/><rect x="2074.2" y="1757.2" width="32" height="90.2" fill="#800080" stroke="#000" stroke-width="1.8"/><path d="M2074.2 1787.9h32" stroke="#000" stroke-width="1.8"/>
<path d="M2134.3 1646.6V1658.5M2134.3 1745.7V1750.3M2122.8 1646.6h23M2122.8 1750.3h23" stroke="#000" stroke-width="1.8" fill="none"/><rect x="2118.3" y="1658.5" width="32" height="87.2" fill="#800080" stroke="#000" stroke-width="1.8"/><path d="M2118.3 1697.3h32" stroke="#000" stroke-width="1.8"/>
<text class="k" transform="translate(1760 1910.7) rotate(-45)" font-size="30.2" text-anchor="end">ISR-THS vs .TU1107</text>
<text class="k" transform="translate(1808.8 1916.4) rotate(-45)" font-size="30.2" text-anchor="end">ISR-THS vs. JK3014</text>
<text class="k" transform="translate(1931.7 1913) rotate(-45)" font-size="30.2" text-anchor="end">ISR-THS vs. TU1117</text>
<text class="k" transform="translate(1983.9 1910.7) rotate(-45)" font-size="30.2" text-anchor="end">ISR-THS vs .TU1120</text>
<text class="k" transform="translate(2104.9 1910.7) rotate(-45)" font-size="30.2" text-anchor="end">ISR-THS vs. TU1122</text>
<text class="k" transform="translate(2150.2 1911.2) rotate(-45)" font-size="30.2" text-anchor="end">ISR-THS vs. TU1123</text>
</g>
</svg>
</body></html>
